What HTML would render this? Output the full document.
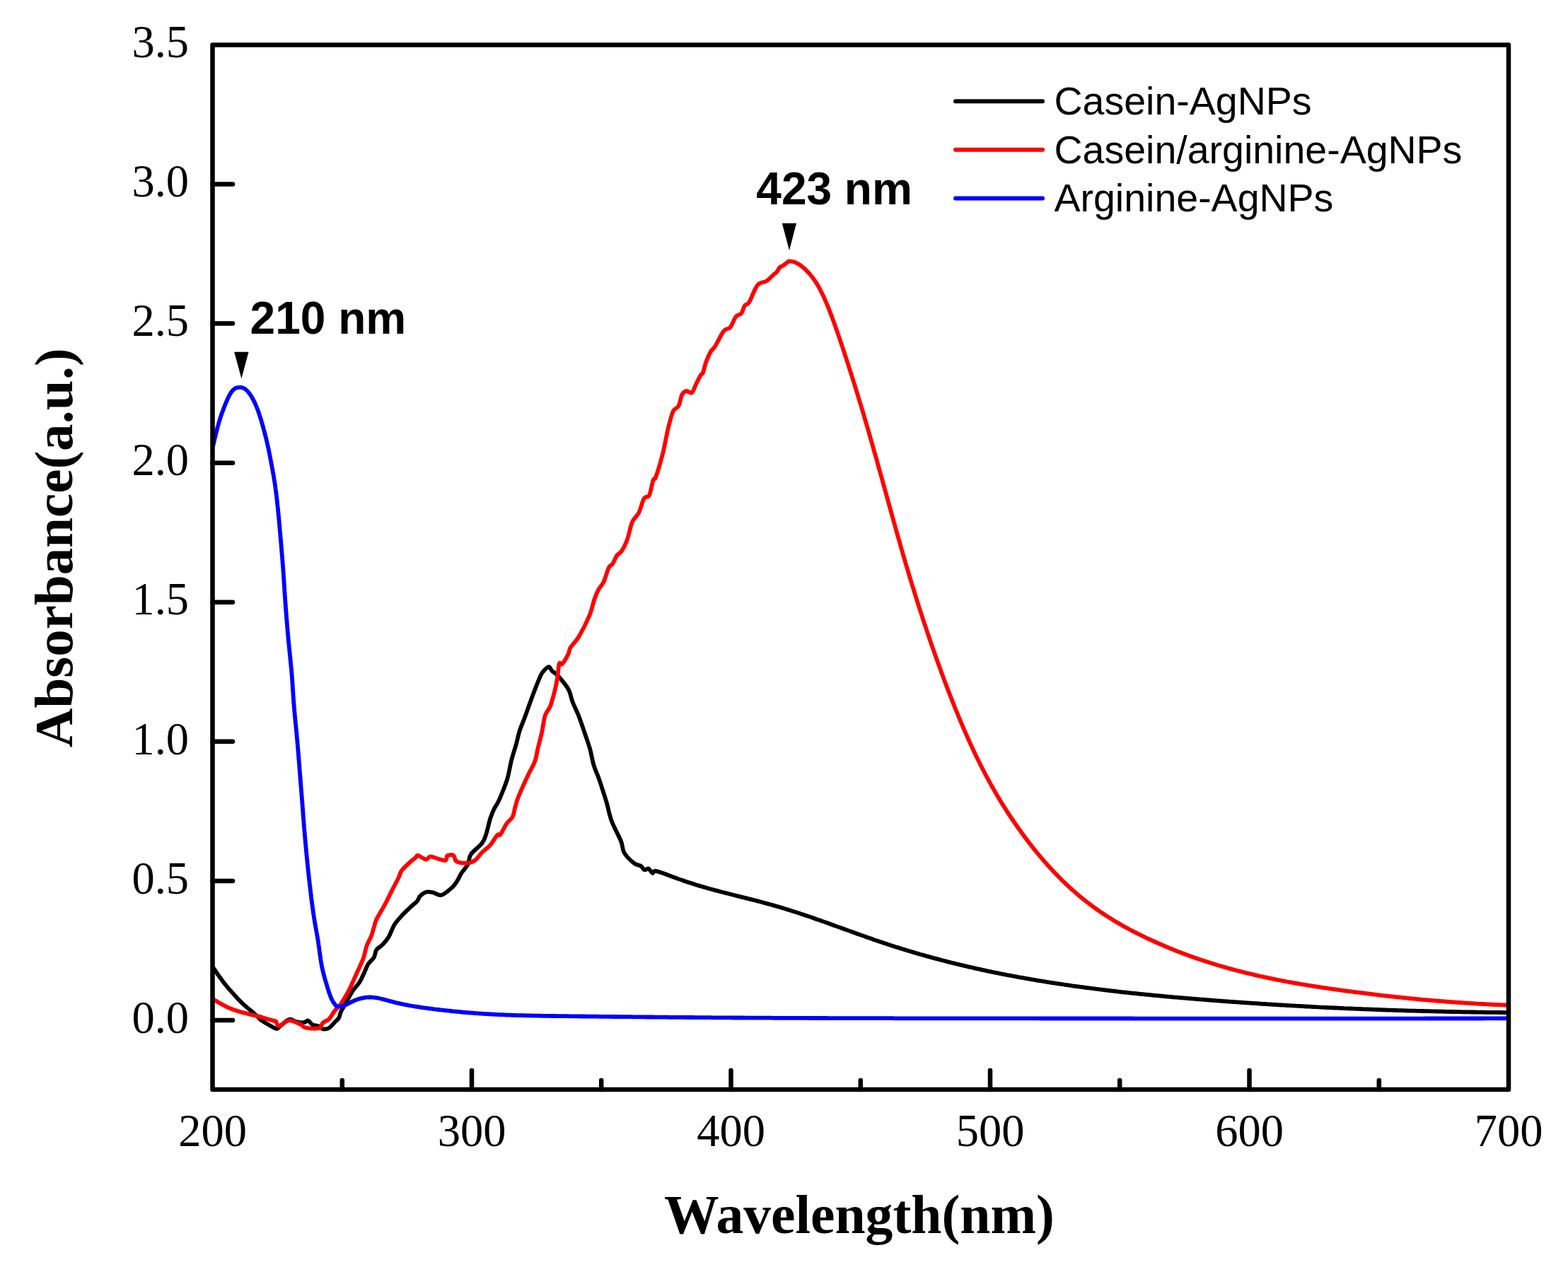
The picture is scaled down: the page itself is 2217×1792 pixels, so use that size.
<!DOCTYPE html>
<html><head><meta charset="utf-8"><title>UV-Vis absorbance spectra</title>
<style>html,body{margin:0;padding:0;background:#fff;}body{width:2217px;height:1792px;overflow:hidden;}svg{display:block;}</style>
</head><body>
<svg xmlns="http://www.w3.org/2000/svg" width="2217" height="1792" viewBox="0 0 2217 1792"><rect x="0" y="0" width="2217" height="1792" fill="#fff"/>
<clipPath id="pc"><rect x="300.5" y="63.4" width="1832.5" height="1477.6"/></clipPath>
<g clip-path="url(#pc)" fill="none" stroke-width="5.8" stroke-linejoin="round" stroke-linecap="round">
<path stroke="#000000" d="M302.1,1369.5 C302.3,1369.8 302.8,1370.5 303.3,1371.2 C303.7,1371.9 304.3,1372.7 304.8,1373.5 C305.4,1374.3 305.9,1375.2 306.5,1376.0 C307.1,1376.8 307.6,1377.6 308.2,1378.5 C308.8,1379.3 309.4,1380.1 309.9,1380.9 C310.5,1381.7 311.1,1382.5 311.7,1383.3 C312.3,1384.1 312.9,1385.0 313.5,1385.8 C314.1,1386.6 314.7,1387.4 315.3,1388.2 C315.9,1389.0 316.5,1389.8 317.1,1390.5 C317.7,1391.3 318.3,1392.1 318.9,1392.9 C319.6,1393.7 320.2,1394.5 320.8,1395.2 C321.5,1396.0 322.1,1396.8 322.7,1397.5 C323.4,1398.3 324.1,1399.0 324.7,1399.8 C325.4,1400.5 326.0,1401.3 326.7,1402.0 C327.4,1402.8 328.1,1403.5 328.7,1404.3 C329.4,1405.0 330.1,1405.7 330.7,1406.5 C331.4,1407.2 332.1,1408.0 332.7,1408.7 C333.4,1409.5 334.1,1410.2 334.8,1410.9 C335.4,1411.7 336.1,1412.4 336.8,1413.2 C337.5,1413.9 338.2,1414.6 338.9,1415.3 C339.6,1416.0 340.3,1416.7 341.0,1417.4 C341.7,1418.1 342.4,1418.8 343.2,1419.5 C343.9,1420.2 344.6,1420.9 345.4,1421.5 C346.1,1422.2 346.9,1422.9 347.6,1423.5 C348.4,1424.2 349.1,1424.8 349.9,1425.5 C350.7,1426.1 351.5,1426.7 352.2,1427.4 C353.0,1428.0 353.8,1428.6 354.6,1429.3 C355.3,1429.9 356.1,1430.5 356.9,1431.2 C357.6,1431.8 358.4,1432.5 359.1,1433.1 C359.9,1433.8 360.6,1434.5 361.3,1435.2 C362.0,1435.9 362.8,1436.6 363.5,1437.3 C364.2,1438.0 364.9,1438.7 365.6,1439.4 C366.2,1440.0 366.9,1440.8 367.5,1441.3 C368.0,1441.9 366.7,1441.4 368.8,1442.7 C370.9,1444.1 376.3,1447.5 380.0,1449.5 C383.7,1451.5 388.4,1454.8 391.2,1455.0 C394.0,1455.2 394.0,1452.7 397.0,1450.5 C400.0,1448.3 405.6,1442.8 409.1,1441.8 C412.6,1440.8 415.2,1444.0 418.0,1444.8 C420.8,1445.5 423.7,1446.1 425.9,1446.3 C428.1,1446.5 429.4,1446.3 431.0,1445.8 C432.6,1445.3 434.0,1443.0 435.4,1443.3 C436.8,1443.5 438.3,1446.2 439.5,1447.3 C440.7,1448.3 440.7,1448.9 442.6,1449.6 C444.5,1450.3 448.7,1450.5 451.0,1451.5 C453.3,1452.5 454.3,1455.1 456.6,1455.5 C458.9,1455.9 462.2,1455.7 465.0,1454.1 C467.8,1452.5 471.1,1448.0 473.4,1445.7 C475.7,1443.4 477.5,1442.4 478.9,1440.1 C480.3,1437.8 480.7,1434.2 481.7,1431.8 C482.7,1429.4 482.1,1430.6 485.0,1425.5 C487.9,1420.4 495.0,1407.2 498.8,1401.3 C502.6,1395.3 505.3,1394.0 508.0,1389.8 C510.7,1385.6 512.8,1380.4 514.9,1376.0 C517.0,1371.6 518.4,1367.0 520.7,1363.3 C523.0,1359.6 526.9,1357.4 528.8,1354.1 C530.7,1350.8 530.1,1346.8 532.2,1343.7 C534.3,1340.6 538.5,1338.7 541.4,1335.6 C544.3,1332.5 546.8,1329.9 549.5,1325.3 C552.2,1320.7 554.5,1313.0 557.6,1308.0 C560.7,1303.0 564.2,1299.3 567.9,1295.3 C571.5,1291.3 575.9,1287.2 579.5,1283.8 C583.1,1280.3 587.4,1277.3 589.8,1274.6 C592.2,1271.9 591.7,1269.7 593.8,1267.5 C595.9,1265.3 599.3,1262.5 602.4,1261.7 C605.5,1260.9 608.9,1261.7 612.5,1262.4 C616.1,1263.1 619.7,1267.1 624.0,1266.0 C628.3,1264.9 634.8,1259.1 638.4,1256.0 C642.0,1252.9 643.2,1250.9 645.6,1247.3 C648.0,1243.7 650.2,1238.4 652.8,1234.3 C655.4,1230.2 659.2,1227.1 661.4,1222.8 C663.6,1218.5 662.4,1213.4 665.8,1208.4 C669.2,1203.4 678.0,1197.4 681.6,1192.6 C685.2,1187.8 685.5,1185.4 687.4,1179.6 C689.3,1173.8 691.2,1164.0 693.1,1158.0 C695.0,1152.0 697.1,1147.4 698.9,1143.6 C700.7,1139.8 702.4,1138.2 704.0,1135.0 C705.6,1131.8 706.4,1130.3 708.6,1124.7 C710.8,1119.1 714.9,1109.7 717.3,1101.6 C719.7,1093.5 720.9,1084.4 723.0,1076.0 C725.1,1067.6 728.3,1058.2 730.2,1051.2 C732.1,1044.2 732.7,1039.9 734.6,1033.9 C736.5,1027.9 739.4,1021.7 741.8,1015.2 C744.2,1008.7 746.4,1002.2 749.0,995.0 C751.6,987.8 755.0,978.7 757.6,972.0 C760.2,965.3 762.7,958.8 764.8,954.7 C766.9,950.6 768.1,949.4 770.0,947.5 C771.9,945.6 774.5,943.0 776.3,943.2 C778.1,943.5 778.4,946.8 780.6,949.0 C782.8,951.2 785.4,951.9 789.3,956.2 C793.1,960.5 800.4,968.9 803.7,974.9 C807.1,980.9 807.0,986.0 809.4,992.2 C811.8,998.4 815.2,1004.9 818.1,1012.3 C821.0,1019.7 824.1,1029.1 826.7,1036.8 C829.3,1044.5 831.7,1050.7 833.9,1058.4 C836.1,1066.1 837.5,1075.7 839.7,1082.9 C841.9,1090.1 844.8,1095.6 846.9,1101.6 C849.0,1107.6 850.7,1112.9 852.6,1118.9 C854.5,1124.9 856.4,1130.5 858.4,1137.6 C860.4,1144.7 861.6,1152.9 864.9,1161.5 C868.1,1170.1 874.9,1182.0 877.9,1189.4 C880.9,1196.8 879.5,1200.8 882.6,1206.1 C885.7,1211.4 892.7,1217.9 896.6,1221.0 C900.5,1224.1 903.4,1223.2 905.9,1224.8 C908.4,1226.4 909.6,1229.8 911.5,1230.4 C913.4,1231.0 915.1,1227.7 917.0,1228.5 C918.9,1229.3 920.7,1234.4 922.6,1235.0 C924.5,1235.6 922.6,1231.0 928.2,1232.2 C933.8,1233.4 950.8,1240.1 956.1,1241.9 C961.4,1243.8 958.8,1242.9 960.1,1243.4 C961.4,1243.9 962.8,1244.4 964.1,1244.8 C965.4,1245.3 966.8,1245.7 968.1,1246.2 C969.4,1246.7 970.8,1247.1 972.1,1247.5 C973.4,1248.0 974.8,1248.4 976.1,1248.8 C977.4,1249.3 978.8,1249.7 980.1,1250.1 C981.4,1250.5 982.8,1251.0 984.1,1251.4 C985.4,1251.8 986.8,1252.2 988.1,1252.6 C989.4,1253.0 990.8,1253.4 992.1,1253.8 C993.4,1254.2 994.8,1254.5 996.1,1254.9 C997.4,1255.3 998.8,1255.7 1000.1,1256.1 C1001.4,1256.4 1002.8,1256.8 1004.1,1257.2 C1005.4,1257.6 1006.8,1257.9 1008.1,1258.3 C1009.4,1258.6 1010.8,1259.0 1012.1,1259.4 C1013.4,1259.7 1014.8,1260.1 1016.1,1260.4 C1017.4,1260.8 1018.8,1261.1 1020.1,1261.5 C1021.4,1261.8 1022.8,1262.2 1024.1,1262.5 C1025.4,1262.9 1026.8,1263.2 1028.1,1263.5 C1029.4,1263.9 1030.8,1264.2 1032.1,1264.6 C1033.4,1264.9 1034.8,1265.2 1036.1,1265.6 C1037.4,1265.9 1038.8,1266.2 1040.1,1266.6 C1041.4,1266.9 1042.8,1267.3 1044.1,1267.6 C1045.4,1267.9 1046.8,1268.3 1048.1,1268.6 C1049.4,1268.9 1050.8,1269.3 1052.1,1269.6 C1053.4,1269.9 1054.8,1270.3 1056.1,1270.6 C1057.4,1270.9 1058.8,1271.3 1060.1,1271.6 C1061.4,1271.9 1062.8,1272.3 1064.1,1272.6 C1065.4,1273.0 1066.8,1273.3 1068.1,1273.6 C1069.4,1274.0 1070.8,1274.3 1072.1,1274.7 C1073.4,1275.0 1074.8,1275.4 1076.1,1275.7 C1077.4,1276.1 1078.8,1276.4 1080.1,1276.8 C1081.4,1277.1 1082.8,1277.5 1084.1,1277.9 C1085.4,1278.2 1086.8,1278.6 1088.1,1279.0 C1089.4,1279.3 1090.8,1279.7 1092.1,1280.1 C1093.4,1280.4 1094.8,1280.8 1096.1,1281.2 C1097.4,1281.6 1098.8,1282.0 1100.1,1282.4 C1101.4,1282.7 1102.8,1283.1 1104.1,1283.5 C1105.4,1283.9 1106.8,1284.3 1108.1,1284.7 C1109.4,1285.1 1110.8,1285.5 1112.1,1286.0 C1113.4,1286.4 1114.8,1286.8 1116.1,1287.2 C1117.4,1287.6 1118.8,1288.0 1120.1,1288.5 C1121.4,1288.9 1122.8,1289.3 1124.1,1289.8 C1125.4,1290.2 1126.8,1290.6 1128.1,1291.1 C1129.4,1291.5 1130.8,1291.9 1132.1,1292.4 C1133.4,1292.8 1134.8,1293.3 1136.1,1293.7 C1137.4,1294.2 1138.8,1294.6 1140.1,1295.1 C1141.4,1295.5 1142.8,1296.0 1144.1,1296.4 C1145.4,1296.9 1146.8,1297.3 1148.1,1297.8 C1149.4,1298.3 1150.8,1298.7 1152.1,1299.2 C1153.4,1299.7 1154.8,1300.1 1156.1,1300.6 C1157.4,1301.1 1158.8,1301.5 1160.1,1302.0 C1161.4,1302.5 1162.8,1302.9 1164.1,1303.4 C1165.4,1303.9 1166.8,1304.4 1168.1,1304.8 C1169.4,1305.3 1170.8,1305.8 1172.1,1306.3 C1173.4,1306.8 1174.8,1307.2 1176.1,1307.7 C1177.4,1308.2 1178.8,1308.7 1180.1,1309.2 C1181.4,1309.6 1182.8,1310.1 1184.1,1310.6 C1185.4,1311.1 1186.8,1311.6 1188.1,1312.0 C1189.4,1312.5 1190.8,1313.0 1192.1,1313.5 C1193.4,1314.0 1194.8,1314.5 1196.1,1314.9 C1197.4,1315.4 1198.8,1315.9 1200.1,1316.4 C1201.4,1316.9 1202.8,1317.4 1204.1,1317.8 C1205.4,1318.3 1206.8,1318.8 1208.1,1319.3 C1209.4,1319.8 1210.8,1320.2 1212.1,1320.7 C1213.4,1321.2 1214.8,1321.7 1216.1,1322.1 C1217.4,1322.6 1218.8,1323.1 1220.1,1323.6 C1221.4,1324.0 1222.8,1324.5 1224.1,1325.0 C1225.4,1325.5 1226.8,1325.9 1228.1,1326.4 C1229.4,1326.9 1230.8,1327.3 1232.1,1327.8 C1233.4,1328.3 1234.8,1328.7 1236.1,1329.2 C1237.4,1329.6 1238.8,1330.1 1240.1,1330.6 C1241.4,1331.0 1242.8,1331.5 1244.1,1331.9 C1245.4,1332.4 1246.8,1332.8 1248.1,1333.3 C1249.4,1333.7 1250.8,1334.2 1252.1,1334.6 C1253.4,1335.0 1254.8,1335.5 1256.1,1335.9 C1257.4,1336.4 1258.8,1336.8 1260.1,1337.2 C1261.4,1337.7 1262.8,1338.1 1264.1,1338.5 C1265.4,1338.9 1266.8,1339.4 1268.1,1339.8 C1269.4,1340.2 1270.8,1340.6 1272.1,1341.0 C1273.4,1341.5 1274.8,1341.9 1276.1,1342.3 C1277.4,1342.7 1278.8,1343.1 1280.1,1343.5 C1281.4,1343.9 1282.8,1344.3 1284.1,1344.7 C1285.4,1345.1 1286.8,1345.5 1288.1,1345.9 C1289.4,1346.3 1290.8,1346.7 1292.1,1347.1 C1293.4,1347.5 1294.8,1347.9 1296.1,1348.3 C1297.4,1348.7 1298.8,1349.1 1300.1,1349.5 C1301.4,1349.8 1302.8,1350.2 1304.1,1350.6 C1305.4,1351.0 1306.8,1351.4 1308.1,1351.7 C1309.4,1352.1 1310.8,1352.5 1312.1,1352.8 C1313.4,1353.2 1314.8,1353.6 1316.1,1353.9 C1317.4,1354.3 1318.8,1354.7 1320.1,1355.0 C1321.4,1355.4 1322.8,1355.8 1324.1,1356.1 C1325.4,1356.5 1326.8,1356.8 1328.1,1357.2 C1329.4,1357.5 1330.8,1357.9 1332.1,1358.2 C1333.4,1358.6 1334.8,1358.9 1336.1,1359.3 C1337.4,1359.6 1338.8,1359.9 1340.1,1360.3 C1341.4,1360.6 1342.8,1361.0 1344.1,1361.3 C1345.4,1361.6 1346.8,1362.0 1348.1,1362.3 C1349.4,1362.6 1350.8,1362.9 1352.1,1363.3 C1353.4,1363.6 1354.8,1363.9 1356.1,1364.2 C1357.4,1364.6 1358.8,1364.9 1360.1,1365.2 C1361.4,1365.5 1362.8,1365.8 1364.1,1366.1 C1365.4,1366.5 1366.8,1366.8 1368.1,1367.1 C1369.4,1367.4 1370.8,1367.7 1372.1,1368.0 C1373.4,1368.3 1374.8,1368.6 1376.1,1368.9 C1377.4,1369.2 1378.8,1369.5 1380.1,1369.8 C1381.4,1370.1 1382.8,1370.4 1384.1,1370.7 C1385.4,1371.0 1386.8,1371.3 1388.1,1371.6 C1389.4,1371.9 1390.8,1372.2 1392.1,1372.4 C1393.4,1372.7 1394.8,1373.0 1396.1,1373.3 C1397.4,1373.6 1398.8,1373.9 1400.1,1374.1 C1401.4,1374.4 1402.8,1374.7 1404.1,1375.0 C1405.4,1375.3 1406.8,1375.5 1408.1,1375.8 C1409.4,1376.1 1410.8,1376.3 1412.1,1376.6 C1413.4,1376.9 1414.8,1377.1 1416.1,1377.4 C1417.4,1377.7 1418.8,1377.9 1420.1,1378.2 C1421.4,1378.5 1422.8,1378.7 1424.1,1379.0 C1425.4,1379.2 1426.8,1379.5 1428.1,1379.7 C1429.4,1380.0 1430.8,1380.3 1432.1,1380.5 C1433.4,1380.8 1434.8,1381.0 1436.1,1381.2 C1437.4,1381.5 1438.8,1381.7 1440.1,1382.0 C1441.4,1382.2 1442.8,1382.5 1444.1,1382.7 C1445.4,1383.0 1446.8,1383.2 1448.1,1383.4 C1449.4,1383.7 1450.8,1383.9 1452.1,1384.1 C1453.4,1384.4 1454.8,1384.6 1456.1,1384.8 C1457.4,1385.1 1458.8,1385.3 1460.1,1385.5 C1461.4,1385.8 1462.8,1386.0 1464.1,1386.2 C1465.4,1386.4 1466.8,1386.7 1468.1,1386.9 C1469.4,1387.1 1470.8,1387.3 1472.1,1387.5 C1473.4,1387.8 1474.8,1388.0 1476.1,1388.2 C1477.4,1388.4 1478.8,1388.6 1480.1,1388.8 C1481.4,1389.1 1482.8,1389.3 1484.1,1389.5 C1485.4,1389.7 1486.8,1389.9 1488.1,1390.1 C1489.4,1390.3 1490.8,1390.5 1492.1,1390.7 C1493.4,1390.9 1494.8,1391.1 1496.1,1391.3 C1497.4,1391.5 1498.8,1391.7 1500.1,1391.9 C1501.4,1392.1 1502.8,1392.3 1504.1,1392.5 C1505.4,1392.7 1506.8,1392.9 1508.1,1393.1 C1509.4,1393.3 1510.8,1393.5 1512.1,1393.7 C1513.4,1393.9 1514.8,1394.1 1516.1,1394.3 C1517.4,1394.4 1518.8,1394.6 1520.1,1394.8 C1521.4,1395.0 1522.8,1395.2 1524.1,1395.4 C1525.4,1395.6 1526.8,1395.7 1528.1,1395.9 C1529.4,1396.1 1530.8,1396.3 1532.1,1396.5 C1533.4,1396.6 1534.8,1396.8 1536.1,1397.0 C1537.4,1397.2 1538.8,1397.3 1540.1,1397.5 C1541.4,1397.7 1542.8,1397.9 1544.1,1398.0 C1545.4,1398.2 1546.8,1398.4 1548.1,1398.5 C1549.4,1398.7 1550.8,1398.9 1552.1,1399.0 C1553.4,1399.2 1554.8,1399.4 1556.1,1399.5 C1557.4,1399.7 1558.8,1399.9 1560.1,1400.0 C1561.4,1400.2 1562.8,1400.3 1564.1,1400.5 C1565.4,1400.7 1566.8,1400.8 1568.1,1401.0 C1569.4,1401.1 1570.8,1401.3 1572.1,1401.5 C1573.4,1401.6 1574.8,1401.8 1576.1,1401.9 C1577.4,1402.1 1578.8,1402.2 1580.1,1402.4 C1581.4,1402.5 1582.8,1402.7 1584.1,1402.8 C1585.4,1403.0 1586.8,1403.1 1588.1,1403.3 C1589.4,1403.4 1590.8,1403.6 1592.1,1403.7 C1593.4,1403.9 1594.8,1404.0 1596.1,1404.1 C1597.4,1404.3 1598.8,1404.4 1600.1,1404.6 C1601.4,1404.7 1602.8,1404.8 1604.1,1405.0 C1605.4,1405.1 1606.8,1405.3 1608.1,1405.4 C1609.4,1405.5 1610.8,1405.7 1612.1,1405.8 C1613.4,1406.0 1614.8,1406.1 1616.1,1406.2 C1617.4,1406.4 1618.8,1406.5 1620.1,1406.6 C1621.4,1406.8 1622.8,1406.9 1624.1,1407.0 C1625.4,1407.1 1626.8,1407.3 1628.1,1407.4 C1629.4,1407.5 1630.8,1407.7 1632.1,1407.8 C1633.4,1407.9 1634.8,1408.0 1636.1,1408.2 C1637.4,1408.3 1638.8,1408.4 1640.1,1408.6 C1641.4,1408.7 1642.8,1408.8 1644.1,1408.9 C1645.4,1409.0 1646.8,1409.2 1648.1,1409.3 C1649.4,1409.4 1650.8,1409.5 1652.1,1409.7 C1653.4,1409.8 1654.8,1409.9 1656.1,1410.0 C1657.4,1410.1 1658.8,1410.2 1660.1,1410.4 C1661.4,1410.5 1662.8,1410.6 1664.1,1410.7 C1665.4,1410.8 1666.8,1411.0 1668.1,1411.1 C1669.4,1411.2 1670.8,1411.3 1672.1,1411.4 C1673.4,1411.5 1674.8,1411.6 1676.1,1411.7 C1677.4,1411.9 1678.8,1412.0 1680.1,1412.1 C1681.4,1412.2 1682.8,1412.3 1684.1,1412.4 C1685.4,1412.5 1686.8,1412.6 1688.1,1412.7 C1689.4,1412.9 1690.8,1413.0 1692.1,1413.1 C1693.4,1413.2 1694.8,1413.3 1696.1,1413.4 C1697.4,1413.5 1698.8,1413.6 1700.1,1413.7 C1701.4,1413.8 1702.8,1413.9 1704.1,1414.0 C1705.4,1414.1 1706.8,1414.2 1708.1,1414.3 C1709.4,1414.4 1710.8,1414.6 1712.1,1414.7 C1713.4,1414.8 1714.8,1414.9 1716.1,1415.0 C1717.4,1415.1 1718.8,1415.2 1720.1,1415.3 C1721.4,1415.4 1722.8,1415.5 1724.1,1415.6 C1725.4,1415.7 1726.8,1415.8 1728.1,1415.9 C1729.4,1416.0 1730.8,1416.1 1732.1,1416.2 C1733.4,1416.3 1734.8,1416.4 1736.1,1416.5 C1737.4,1416.6 1738.8,1416.7 1740.1,1416.8 C1741.4,1416.8 1742.8,1416.9 1744.1,1417.0 C1745.4,1417.1 1746.8,1417.2 1748.1,1417.3 C1749.4,1417.4 1750.8,1417.5 1752.1,1417.6 C1753.4,1417.7 1754.8,1417.8 1756.1,1417.9 C1757.4,1418.0 1758.8,1418.1 1760.1,1418.2 C1761.4,1418.3 1762.8,1418.3 1764.1,1418.4 C1765.4,1418.5 1766.8,1418.6 1768.1,1418.7 C1769.4,1418.8 1770.8,1418.9 1772.1,1419.0 C1773.4,1419.1 1774.8,1419.2 1776.1,1419.2 C1777.4,1419.3 1778.8,1419.4 1780.1,1419.5 C1781.4,1419.6 1782.8,1419.7 1784.1,1419.8 C1785.4,1419.8 1786.8,1419.9 1788.1,1420.0 C1789.4,1420.1 1790.8,1420.2 1792.1,1420.3 C1793.4,1420.4 1794.8,1420.4 1796.1,1420.5 C1797.4,1420.6 1798.8,1420.7 1800.1,1420.8 C1801.4,1420.9 1802.8,1420.9 1804.1,1421.0 C1805.4,1421.1 1806.8,1421.2 1808.1,1421.3 C1809.4,1421.3 1810.8,1421.4 1812.1,1421.5 C1813.4,1421.6 1814.8,1421.7 1816.1,1421.7 C1817.4,1421.8 1818.8,1421.9 1820.1,1422.0 C1821.4,1422.0 1822.8,1422.1 1824.1,1422.2 C1825.4,1422.3 1826.8,1422.4 1828.1,1422.4 C1829.4,1422.5 1830.8,1422.6 1832.1,1422.7 C1833.4,1422.7 1834.8,1422.8 1836.1,1422.9 C1837.4,1423.0 1838.8,1423.0 1840.1,1423.1 C1841.4,1423.2 1842.8,1423.2 1844.1,1423.3 C1845.4,1423.4 1846.8,1423.5 1848.1,1423.5 C1849.4,1423.6 1850.8,1423.7 1852.1,1423.7 C1853.4,1423.8 1854.8,1423.9 1856.1,1424.0 C1857.4,1424.0 1858.8,1424.1 1860.1,1424.2 C1861.4,1424.2 1862.8,1424.3 1864.1,1424.4 C1865.4,1424.4 1866.8,1424.5 1868.1,1424.6 C1869.4,1424.6 1870.8,1424.7 1872.1,1424.8 C1873.4,1424.8 1874.8,1424.9 1876.1,1425.0 C1877.4,1425.0 1878.8,1425.1 1880.1,1425.2 C1881.4,1425.2 1882.8,1425.3 1884.1,1425.3 C1885.4,1425.4 1886.8,1425.5 1888.1,1425.5 C1889.4,1425.6 1890.8,1425.7 1892.1,1425.7 C1893.4,1425.8 1894.8,1425.8 1896.1,1425.9 C1897.4,1426.0 1898.8,1426.0 1900.1,1426.1 C1901.4,1426.1 1902.8,1426.2 1904.1,1426.3 C1905.4,1426.3 1906.8,1426.4 1908.1,1426.4 C1909.4,1426.5 1910.8,1426.5 1912.1,1426.6 C1913.4,1426.7 1914.8,1426.7 1916.1,1426.8 C1917.4,1426.8 1918.8,1426.9 1920.1,1426.9 C1921.4,1427.0 1922.8,1427.0 1924.1,1427.1 C1925.4,1427.2 1926.8,1427.2 1928.1,1427.3 C1929.4,1427.3 1930.8,1427.4 1932.1,1427.4 C1933.4,1427.5 1934.8,1427.5 1936.1,1427.6 C1937.4,1427.6 1938.8,1427.7 1940.1,1427.7 C1941.4,1427.8 1942.8,1427.8 1944.1,1427.9 C1945.4,1427.9 1946.8,1428.0 1948.1,1428.0 C1949.4,1428.1 1950.8,1428.1 1952.1,1428.2 C1953.4,1428.2 1954.8,1428.3 1956.1,1428.3 C1957.4,1428.4 1958.8,1428.4 1960.1,1428.5 C1961.4,1428.5 1962.8,1428.5 1964.1,1428.6 C1965.4,1428.6 1966.8,1428.7 1968.1,1428.7 C1969.4,1428.8 1970.8,1428.8 1972.1,1428.9 C1973.4,1428.9 1974.8,1428.9 1976.1,1429.0 C1977.4,1429.0 1978.8,1429.1 1980.1,1429.1 C1981.4,1429.2 1982.8,1429.2 1984.1,1429.2 C1985.4,1429.3 1986.8,1429.3 1988.1,1429.4 C1989.4,1429.4 1990.8,1429.4 1992.1,1429.5 C1993.4,1429.5 1994.8,1429.6 1996.1,1429.6 C1997.4,1429.6 1998.8,1429.7 2000.1,1429.7 C2001.4,1429.8 2002.8,1429.8 2004.1,1429.8 C2005.4,1429.9 2006.8,1429.9 2008.1,1429.9 C2009.4,1430.0 2010.8,1430.0 2012.1,1430.0 C2013.4,1430.1 2014.8,1430.1 2016.1,1430.1 C2017.4,1430.2 2018.8,1430.2 2020.1,1430.2 C2021.4,1430.3 2022.8,1430.3 2024.1,1430.3 C2025.4,1430.4 2026.8,1430.4 2028.1,1430.4 C2029.4,1430.5 2030.8,1430.5 2032.1,1430.5 C2033.4,1430.6 2034.8,1430.6 2036.1,1430.6 C2037.4,1430.7 2038.8,1430.7 2040.1,1430.7 C2041.4,1430.7 2042.8,1430.8 2044.1,1430.8 C2045.4,1430.8 2046.8,1430.9 2048.1,1430.9 C2049.4,1430.9 2050.8,1430.9 2052.1,1431.0 C2053.4,1431.0 2054.8,1431.0 2056.1,1431.0 C2057.4,1431.1 2058.8,1431.1 2060.1,1431.1 C2061.4,1431.2 2062.8,1431.2 2064.1,1431.2 C2065.4,1431.2 2066.8,1431.2 2068.1,1431.3 C2069.4,1431.3 2070.8,1431.3 2072.1,1431.3 C2073.4,1431.4 2074.8,1431.4 2076.1,1431.4 C2077.4,1431.4 2078.8,1431.5 2080.1,1431.5 C2081.4,1431.5 2082.8,1431.5 2084.1,1431.5 C2085.4,1431.6 2086.8,1431.6 2088.1,1431.6 C2089.4,1431.6 2090.8,1431.6 2092.1,1431.7 C2093.4,1431.7 2094.8,1431.7 2096.1,1431.7 C2097.4,1431.7 2098.8,1431.7 2100.1,1431.8 C2101.4,1431.8 2102.8,1431.8 2104.1,1431.8 C2105.4,1431.8 2106.8,1431.8 2108.1,1431.9 C2109.4,1431.9 2110.8,1431.9 2112.1,1431.9 C2113.4,1431.9 2114.8,1431.9 2116.1,1431.9 C2117.4,1432.0 2118.8,1432.0 2120.1,1432.0 C2121.4,1432.0 2122.8,1432.0 2124.1,1432.0 C2125.4,1432.0 2126.9,1432.0 2128.1,1432.1 C2129.2,1432.1 2130.5,1432.1 2131.0,1432.1"/>
<path stroke="#ff0000" d="M302.0,1413.6 C302.3,1413.8 303.1,1414.3 303.8,1414.7 C304.5,1415.1 305.3,1415.6 306.1,1416.1 C307.0,1416.6 307.9,1417.1 308.7,1417.6 C309.6,1418.1 310.5,1418.6 311.3,1419.1 C312.2,1419.6 313.1,1420.1 314.0,1420.6 C314.8,1421.1 315.7,1421.5 316.6,1422.0 C317.5,1422.5 318.4,1423.0 319.3,1423.4 C320.2,1423.9 321.0,1424.3 322.0,1424.7 C322.9,1425.2 323.8,1425.6 324.7,1425.9 C325.6,1426.3 326.5,1426.7 327.5,1427.1 C328.4,1427.4 329.3,1427.8 330.3,1428.1 C331.2,1428.4 332.2,1428.7 333.1,1429.0 C334.1,1429.3 335.0,1429.6 336.0,1429.9 C336.9,1430.2 337.9,1430.5 338.9,1430.8 C339.8,1431.1 340.8,1431.3 341.7,1431.6 C342.7,1431.9 343.7,1432.1 344.6,1432.4 C345.6,1432.7 346.6,1432.9 347.5,1433.2 C348.5,1433.4 349.5,1433.6 350.5,1433.9 C351.4,1434.1 352.4,1434.4 353.4,1434.6 C354.3,1434.8 355.3,1435.1 356.3,1435.3 C357.3,1435.5 358.2,1435.8 359.2,1436.0 C360.2,1436.2 361.2,1436.4 362.1,1436.7 C363.1,1436.9 364.1,1437.2 365.0,1437.4 C366.0,1437.6 367.0,1437.9 367.9,1438.2 C368.9,1438.4 369.9,1438.7 370.8,1439.0 C371.8,1439.3 372.7,1439.6 373.7,1439.9 C374.6,1440.2 375.6,1440.5 376.6,1440.7 C377.5,1441.0 378.5,1441.3 379.4,1441.6 C380.4,1441.9 381.4,1442.2 382.3,1442.5 C383.3,1442.7 384.2,1443.0 385.2,1443.3 C386.1,1443.6 387.1,1443.8 387.9,1444.1 C388.7,1444.3 389.5,1444.5 389.9,1444.6 C390.3,1444.8 389.6,1443.7 390.4,1444.8 C391.2,1445.8 391.5,1451.2 394.6,1451.0 C397.7,1450.8 403.9,1443.6 409.1,1443.3 C414.3,1443.0 422.2,1447.7 425.9,1449.4 C429.6,1451.1 427.3,1452.5 431.5,1453.3 C435.7,1454.1 446.8,1455.4 451.0,1454.3 C455.2,1453.2 454.3,1448.6 456.6,1446.5 C458.9,1444.4 462.2,1444.4 465.0,1441.6 C467.8,1438.8 471.1,1432.5 473.4,1429.5 C475.7,1426.5 477.5,1424.9 478.9,1423.4 C480.2,1421.9 479.1,1424.2 481.5,1420.5 C483.9,1416.8 489.1,1408.7 493.0,1401.3 C496.9,1393.9 501.1,1383.7 504.6,1376.0 C508.1,1368.3 511.5,1361.5 513.8,1355.2 C516.1,1348.9 516.5,1343.3 518.4,1337.9 C520.3,1332.5 523.2,1328.8 525.3,1323.0 C527.4,1317.2 529.4,1308.2 531.1,1303.4 C532.8,1298.6 533.4,1298.4 535.7,1294.2 C538.0,1290.0 541.8,1283.8 544.9,1278.0 C548.0,1272.2 551.0,1265.7 554.1,1259.6 C557.2,1253.5 561.2,1246.2 563.5,1241.5 C565.8,1236.8 564.9,1235.2 567.8,1231.4 C570.7,1227.6 577.4,1221.6 580.8,1218.5 C584.2,1215.4 586.3,1214.1 588.0,1212.7 C589.7,1211.3 588.5,1209.4 590.9,1209.9 C593.3,1210.4 599.5,1215.4 602.4,1215.6 C605.3,1215.8 605.6,1211.5 608.2,1211.3 C610.8,1211.1 614.6,1213.2 618.2,1214.2 C621.8,1215.2 627.4,1217.7 629.8,1217.0 C632.2,1216.3 630.8,1211.2 632.7,1210.0 C634.6,1208.8 639.1,1208.6 641.3,1210.0 C643.4,1211.4 642.5,1216.7 645.6,1218.5 C648.7,1220.3 655.7,1220.8 660.0,1220.6 C664.3,1220.3 667.9,1219.5 671.5,1217.0 C675.1,1214.5 678.0,1209.1 681.6,1205.5 C685.2,1201.9 689.5,1199.5 693.1,1195.4 C696.7,1191.3 700.8,1183.5 703.2,1181.0 C705.6,1178.5 705.3,1182.9 707.5,1180.3 C709.7,1177.7 713.3,1169.4 716.2,1165.2 C719.1,1161.0 722.8,1158.8 724.8,1155.1 C726.8,1151.4 726.9,1147.1 728.0,1143.0 C729.1,1138.9 729.9,1135.4 731.7,1130.4 C733.5,1125.4 736.3,1119.1 738.9,1113.1 C741.5,1107.1 744.6,1100.4 747.5,1094.4 C750.4,1088.4 754.0,1083.1 756.2,1077.1 C758.4,1071.1 758.8,1065.4 760.5,1058.4 C762.2,1051.5 764.5,1043.1 766.2,1035.4 C767.9,1027.7 768.7,1018.3 770.6,1012.3 C772.5,1006.3 775.6,1004.7 777.8,999.4 C779.9,994.1 781.8,987.1 783.5,980.6 C785.2,974.1 786.6,967.5 787.8,960.5 C789.0,953.5 789.5,942.5 790.7,938.9 C791.9,935.3 792.8,941.3 795.0,938.9 C797.2,936.5 801.8,928.4 803.7,924.5 C805.6,920.6 804.2,919.8 806.6,915.8 C809.0,911.8 814.0,908.0 818.4,900.5 C822.8,893.0 829.5,879.9 833.2,871.0 C836.9,862.1 838.5,853.1 840.6,847.0 C842.8,840.9 844.0,838.1 846.1,834.1 C848.2,830.1 851.0,828.2 853.5,823.0 C856.0,817.8 858.6,807.1 860.8,802.8 C862.9,798.5 864.5,800.0 866.4,797.2 C868.2,794.4 869.8,789.3 871.9,786.2 C874.0,783.1 876.8,782.5 879.3,778.8 C881.8,775.1 884.1,770.9 886.6,764.1 C889.1,757.3 891.2,744.7 894.0,738.2 C896.8,731.7 900.4,730.8 903.2,725.3 C906.0,719.8 908.1,709.2 910.6,705.1 C913.1,701.0 915.9,704.8 918.0,700.5 C920.1,696.2 922.0,683.6 923.5,679.3 C925.0,675.0 925.1,680.6 927.2,674.7 C929.4,668.9 934.0,653.3 936.4,644.2 C938.8,635.1 940.2,627.0 941.7,620.0 C943.2,613.0 943.9,608.4 945.6,602.0 C947.3,595.6 949.5,586.4 951.8,581.7 C954.1,577.0 957.4,577.9 959.5,574.0 C961.6,570.1 962.4,561.9 964.2,558.4 C966.0,554.9 968.1,553.5 970.4,553.0 C972.7,552.5 975.9,557.0 978.2,555.3 C980.5,553.6 982.3,546.9 984.4,542.8 C986.5,538.6 989.1,533.0 990.7,530.4 C992.3,527.8 992.5,530.4 993.8,527.3 C995.1,524.2 996.6,516.6 998.4,511.7 C1000.2,506.8 1002.6,501.3 1004.7,497.7 C1006.8,494.1 1007.8,494.9 1010.9,490.0 C1014.0,485.1 1019.7,472.7 1023.3,468.2 C1026.9,463.7 1029.8,466.2 1032.6,462.8 C1035.4,459.4 1037.8,451.2 1040.4,448.0 C1043.0,444.8 1046.1,445.9 1048.2,443.3 C1050.3,440.7 1051.1,435.0 1052.9,432.4 C1054.7,429.8 1056.8,431.4 1059.1,427.8 C1061.4,424.2 1064.6,415.1 1066.9,410.7 C1069.2,406.3 1070.2,403.5 1073.1,401.3 C1075.9,399.1 1080.6,399.5 1084.0,397.4 C1087.4,395.3 1091.0,391.0 1093.3,388.9 C1095.6,386.8 1096.5,386.8 1098.0,385.0 C1099.5,383.2 1101.1,379.5 1102.6,378.0 C1104.1,376.5 1104.9,377.3 1106.9,375.9 C1108.9,374.5 1113.2,370.9 1114.7,369.9 C1116.2,368.8 1115.7,369.7 1116.2,369.7 C1116.7,369.6 1117.2,369.6 1117.7,369.6 C1118.2,369.7 1118.7,369.7 1119.2,369.7 C1119.7,369.8 1120.2,369.9 1120.7,370.0 C1121.2,370.1 1121.7,370.2 1122.2,370.4 C1122.7,370.5 1123.2,370.7 1123.7,370.9 C1124.2,371.1 1124.7,371.3 1125.2,371.5 C1125.7,371.7 1126.2,372.0 1126.7,372.2 C1127.2,372.5 1127.7,372.8 1128.2,373.1 C1128.7,373.3 1129.2,373.7 1129.7,374.0 C1130.2,374.3 1130.7,374.6 1131.2,375.0 C1131.7,375.3 1132.2,375.7 1132.7,376.1 C1133.2,376.5 1133.7,376.9 1134.2,377.3 C1134.7,377.7 1135.2,378.1 1135.7,378.5 C1136.2,378.9 1136.7,379.3 1137.2,379.8 C1137.7,380.2 1138.2,380.7 1138.7,381.1 C1139.2,381.6 1139.7,382.1 1140.2,382.6 C1140.7,383.1 1141.2,383.6 1141.7,384.1 C1142.2,384.6 1142.7,385.1 1143.2,385.7 C1143.7,386.2 1144.2,386.8 1144.7,387.3 C1145.2,387.9 1145.7,388.5 1146.2,389.1 C1146.7,389.7 1147.2,390.3 1147.7,391.0 C1148.2,391.6 1148.7,392.2 1149.2,392.9 C1149.7,393.6 1150.2,394.3 1150.7,395.0 C1151.2,395.7 1151.7,396.4 1152.2,397.1 C1152.7,397.9 1153.2,398.6 1153.7,399.4 C1154.2,400.2 1154.7,401.0 1155.2,401.8 C1155.7,402.6 1156.2,403.5 1156.7,404.3 C1157.2,405.2 1157.7,406.1 1158.2,407.0 C1158.7,407.9 1159.2,408.8 1159.7,409.8 C1160.2,410.7 1160.7,411.7 1161.2,412.7 C1161.7,413.7 1162.2,414.7 1162.7,415.7 C1163.2,416.7 1163.7,417.8 1164.2,418.9 C1164.7,420.0 1165.2,421.1 1165.7,422.2 C1166.2,423.3 1166.7,424.4 1167.2,425.6 C1167.7,426.7 1168.2,427.9 1168.7,429.1 C1169.2,430.3 1169.7,431.5 1170.2,432.7 C1170.7,433.9 1171.2,435.2 1171.7,436.4 C1172.2,437.7 1172.7,438.9 1173.2,440.2 C1173.7,441.5 1174.2,442.8 1174.7,444.1 C1175.2,445.4 1175.7,446.8 1176.2,448.1 C1176.7,449.4 1177.2,450.8 1177.7,452.2 C1178.2,453.5 1178.7,454.9 1179.2,456.3 C1179.7,457.7 1180.2,459.1 1180.7,460.5 C1181.2,461.9 1181.7,463.3 1182.2,464.7 C1182.7,466.1 1183.2,467.6 1183.7,469.0 C1184.2,470.5 1184.7,471.9 1185.2,473.4 C1185.7,474.8 1186.2,476.3 1186.7,477.8 C1187.2,479.3 1187.7,480.7 1188.2,482.2 C1188.7,483.7 1189.2,485.2 1189.7,486.7 C1190.2,488.2 1190.7,489.7 1191.2,491.2 C1191.7,492.7 1192.2,494.2 1192.7,495.7 C1193.2,497.2 1193.7,498.7 1194.2,500.3 C1194.7,501.8 1195.2,503.3 1195.7,504.8 C1196.2,506.4 1196.7,507.9 1197.2,509.4 C1197.7,511.0 1198.2,512.5 1198.7,514.1 C1199.2,515.6 1199.7,517.2 1200.2,518.7 C1200.7,520.3 1201.2,521.8 1201.7,523.4 C1202.2,525.0 1202.7,526.5 1203.2,528.1 C1203.7,529.7 1204.2,531.3 1204.7,532.8 C1205.2,534.4 1205.7,536.0 1206.2,537.6 C1206.7,539.2 1207.2,540.8 1207.7,542.4 C1208.2,544.0 1208.7,545.6 1209.2,547.2 C1209.7,548.8 1210.2,550.4 1210.7,552.1 C1211.2,553.7 1211.7,555.3 1212.2,556.9 C1212.7,558.6 1213.2,560.2 1213.7,561.8 C1214.2,563.5 1214.7,565.1 1215.2,566.8 C1215.7,568.4 1216.2,570.1 1216.7,571.7 C1217.2,573.4 1217.7,575.0 1218.2,576.7 C1218.7,578.4 1219.2,580.0 1219.7,581.7 C1220.2,583.4 1220.7,585.1 1221.2,586.7 C1221.7,588.4 1222.2,590.1 1222.7,591.8 C1223.2,593.5 1223.7,595.2 1224.2,596.9 C1224.7,598.6 1225.2,600.3 1225.7,602.0 C1226.2,603.7 1226.7,605.5 1227.2,607.2 C1227.7,608.9 1228.2,610.6 1228.7,612.4 C1229.2,614.1 1229.7,615.8 1230.2,617.6 C1230.7,619.3 1231.2,621.1 1231.7,622.8 C1232.2,624.6 1232.7,626.3 1233.2,628.1 C1233.7,629.8 1234.2,631.6 1234.7,633.4 C1235.2,635.1 1235.7,636.9 1236.2,638.7 C1236.7,640.4 1237.2,642.2 1237.7,644.0 C1238.2,645.8 1238.7,647.6 1239.2,649.3 C1239.7,651.1 1240.2,652.9 1240.7,654.7 C1241.2,656.5 1241.7,658.3 1242.2,660.1 C1242.7,661.9 1243.2,663.7 1243.7,665.5 C1244.2,667.3 1244.7,669.1 1245.2,670.9 C1245.7,672.7 1246.2,674.5 1246.7,676.3 C1247.2,678.1 1247.7,679.9 1248.2,681.7 C1248.7,683.5 1249.2,685.3 1249.7,687.1 C1250.2,689.0 1250.7,690.8 1251.2,692.6 C1251.7,694.4 1252.2,696.2 1252.7,698.0 C1253.2,699.8 1253.7,701.6 1254.2,703.4 C1254.7,705.3 1255.2,707.1 1255.7,708.9 C1256.2,710.7 1256.7,712.5 1257.2,714.3 C1257.7,716.1 1258.2,717.9 1258.7,719.7 C1259.2,721.5 1259.7,723.3 1260.2,725.1 C1260.7,726.9 1261.2,728.7 1261.7,730.5 C1262.2,732.3 1262.7,734.1 1263.2,735.9 C1263.7,737.7 1264.2,739.5 1264.7,741.3 C1265.2,743.1 1265.7,744.9 1266.2,746.7 C1266.7,748.5 1267.2,750.2 1267.7,752.0 C1268.2,753.8 1268.7,755.6 1269.2,757.4 C1269.7,759.1 1270.2,760.9 1270.7,762.7 C1271.2,764.4 1271.7,766.2 1272.2,767.9 C1272.7,769.7 1273.2,771.5 1273.7,773.2 C1274.2,775.0 1274.7,776.7 1275.2,778.4 C1275.7,780.2 1276.2,781.9 1276.7,783.6 C1277.2,785.4 1277.7,787.1 1278.2,788.8 C1278.7,790.5 1279.2,792.3 1279.7,794.0 C1280.2,795.7 1280.7,797.4 1281.2,799.1 C1281.7,800.8 1282.2,802.5 1282.7,804.1 C1283.2,805.8 1283.7,807.5 1284.2,809.2 C1284.7,810.9 1285.2,812.5 1285.7,814.2 C1286.2,815.9 1286.7,817.5 1287.2,819.2 C1287.7,820.8 1288.2,822.5 1288.7,824.1 C1289.2,825.7 1289.7,827.4 1290.2,829.0 C1290.7,830.6 1291.2,832.3 1291.7,833.9 C1292.2,835.5 1292.7,837.1 1293.2,838.7 C1293.7,840.3 1294.2,841.9 1294.7,843.5 C1295.2,845.1 1295.7,846.7 1296.2,848.3 C1296.7,849.9 1297.2,851.5 1297.7,853.1 C1298.2,854.6 1298.7,856.2 1299.2,857.8 C1299.7,859.3 1300.2,860.9 1300.7,862.5 C1301.2,864.0 1301.7,865.6 1302.2,867.1 C1302.7,868.6 1303.2,870.2 1303.7,871.7 C1304.2,873.3 1304.7,874.8 1305.2,876.3 C1305.7,877.8 1306.2,879.4 1306.7,880.9 C1307.2,882.4 1307.7,883.9 1308.2,885.4 C1308.7,886.9 1309.2,888.4 1309.7,889.9 C1310.2,891.4 1310.7,892.9 1311.2,894.4 C1311.7,895.9 1312.2,897.3 1312.7,898.8 C1313.2,900.3 1313.7,901.8 1314.2,903.2 C1314.7,904.7 1315.2,906.1 1315.7,907.6 C1316.2,909.1 1316.7,910.5 1317.2,912.0 C1317.7,913.4 1318.2,914.8 1318.7,916.3 C1319.2,917.7 1319.7,919.1 1320.2,920.6 C1320.7,922.0 1321.2,923.4 1321.7,924.8 C1322.2,926.3 1322.7,927.7 1323.2,929.1 C1323.7,930.5 1324.2,931.9 1324.7,933.3 C1325.2,934.7 1325.7,936.1 1326.2,937.5 C1326.7,938.9 1327.2,940.3 1327.7,941.6 C1328.2,943.0 1328.7,944.4 1329.2,945.8 C1329.7,947.1 1330.2,948.5 1330.7,949.9 C1331.2,951.2 1331.7,952.6 1332.2,954.0 C1332.7,955.3 1333.2,956.7 1333.7,958.0 C1334.2,959.4 1334.7,960.7 1335.2,962.0 C1335.7,963.4 1336.2,964.7 1336.7,966.0 C1337.2,967.4 1337.7,968.7 1338.2,970.0 C1338.7,971.3 1339.2,972.6 1339.7,973.9 C1340.2,975.3 1340.7,976.6 1341.2,977.9 C1341.7,979.2 1342.2,980.5 1342.7,981.7 C1343.2,983.0 1343.7,984.3 1344.2,985.6 C1344.7,986.9 1345.2,988.2 1345.7,989.4 C1346.2,990.7 1346.7,992.0 1347.2,993.2 C1347.7,994.5 1348.2,995.8 1348.7,997.0 C1349.2,998.3 1349.7,999.5 1350.2,1000.8 C1350.7,1002.0 1351.2,1003.2 1351.7,1004.5 C1352.2,1005.7 1352.7,1006.9 1353.2,1008.2 C1353.7,1009.4 1354.2,1010.6 1354.7,1011.8 C1355.2,1013.0 1355.7,1014.2 1356.2,1015.5 C1356.7,1016.7 1357.2,1017.9 1357.7,1019.1 C1358.2,1020.2 1358.7,1021.4 1359.2,1022.6 C1359.7,1023.8 1360.2,1025.0 1360.7,1026.2 C1361.2,1027.3 1361.7,1028.5 1362.2,1029.7 C1362.7,1030.8 1363.2,1032.0 1363.7,1033.1 C1364.2,1034.3 1364.7,1035.4 1365.2,1036.6 C1365.7,1037.7 1366.2,1038.9 1366.7,1040.0 C1367.2,1041.1 1367.7,1042.3 1368.2,1043.4 C1368.7,1044.5 1369.2,1045.6 1369.7,1046.7 C1370.2,1047.9 1370.7,1049.0 1371.2,1050.1 C1371.7,1051.2 1372.2,1052.3 1372.7,1053.4 C1373.2,1054.5 1373.7,1055.5 1374.2,1056.6 C1374.7,1057.7 1375.2,1058.8 1375.7,1059.8 C1376.2,1060.9 1376.7,1062.0 1377.2,1063.0 C1377.7,1064.1 1378.2,1065.2 1378.7,1066.2 C1379.2,1067.2 1379.7,1068.3 1380.2,1069.3 C1380.7,1070.4 1381.2,1071.4 1381.7,1072.4 C1382.2,1073.5 1382.7,1074.5 1383.2,1075.5 C1383.7,1076.5 1384.2,1077.5 1384.7,1078.5 C1385.2,1079.5 1385.7,1080.5 1386.2,1081.5 C1386.7,1082.5 1387.2,1083.5 1387.7,1084.5 C1388.2,1085.5 1388.7,1086.5 1389.2,1087.4 C1389.7,1088.4 1390.2,1089.4 1390.7,1090.3 C1391.2,1091.3 1391.7,1092.3 1392.2,1093.2 C1392.7,1094.2 1393.2,1095.1 1393.7,1096.1 C1394.2,1097.0 1394.7,1097.9 1395.2,1098.9 C1395.7,1099.8 1396.2,1100.7 1396.7,1101.7 C1397.2,1102.6 1397.7,1103.5 1398.2,1104.4 C1398.7,1105.3 1399.2,1106.3 1399.7,1107.2 C1400.2,1108.1 1400.7,1109.0 1401.2,1109.9 C1401.7,1110.8 1402.2,1111.7 1402.7,1112.6 C1403.2,1113.4 1403.7,1114.3 1404.2,1115.2 C1404.7,1116.1 1405.2,1117.0 1405.7,1117.8 C1406.2,1118.7 1406.7,1119.6 1407.2,1120.4 C1407.7,1121.3 1408.2,1122.1 1408.7,1123.0 C1409.2,1123.9 1409.7,1124.7 1410.2,1125.5 C1410.7,1126.4 1411.2,1127.2 1411.7,1128.1 C1412.2,1128.9 1412.7,1129.7 1413.2,1130.6 C1413.7,1131.4 1414.2,1132.2 1414.7,1133.0 C1415.2,1133.9 1415.7,1134.7 1416.2,1135.5 C1416.7,1136.3 1417.2,1137.1 1417.7,1137.9 C1418.2,1138.7 1418.7,1139.5 1419.2,1140.3 C1419.7,1141.1 1420.2,1141.9 1420.7,1142.7 C1421.2,1143.5 1421.7,1144.3 1422.2,1145.1 C1422.7,1145.9 1423.2,1146.6 1423.7,1147.4 C1424.2,1148.2 1424.7,1149.0 1425.2,1149.7 C1425.7,1150.5 1426.2,1151.3 1426.7,1152.0 C1427.2,1152.8 1427.7,1153.5 1428.2,1154.3 C1428.7,1155.0 1429.2,1155.8 1429.7,1156.5 C1430.2,1157.3 1430.7,1158.0 1431.2,1158.8 C1431.7,1159.5 1432.2,1160.3 1432.7,1161.0 C1433.2,1161.7 1433.7,1162.5 1434.2,1163.2 C1434.7,1163.9 1435.2,1164.6 1435.7,1165.4 C1436.2,1166.1 1436.7,1166.8 1437.2,1167.5 C1437.7,1168.2 1438.2,1169.0 1438.7,1169.7 C1439.2,1170.4 1439.7,1171.1 1440.2,1171.8 C1440.7,1172.5 1441.2,1173.2 1441.7,1173.9 C1442.2,1174.6 1442.7,1175.3 1443.2,1176.0 C1443.7,1176.7 1444.2,1177.4 1444.7,1178.1 C1445.2,1178.8 1445.7,1179.4 1446.2,1180.1 C1446.7,1180.8 1447.2,1181.5 1447.7,1182.2 C1448.2,1182.8 1448.7,1183.5 1449.2,1184.2 C1449.7,1184.9 1450.2,1185.5 1450.7,1186.2 C1451.2,1186.9 1451.7,1187.5 1452.2,1188.2 C1452.7,1188.8 1453.2,1189.5 1453.7,1190.1 C1454.2,1190.8 1454.7,1191.5 1455.2,1192.1 C1455.7,1192.8 1456.2,1193.4 1456.7,1194.0 C1457.2,1194.7 1457.7,1195.3 1458.2,1196.0 C1458.7,1196.6 1459.2,1197.2 1459.7,1197.9 C1460.2,1198.5 1460.7,1199.1 1461.2,1199.8 C1461.7,1200.4 1462.2,1201.0 1462.7,1201.6 C1463.2,1202.3 1463.7,1202.9 1464.2,1203.5 C1464.7,1204.1 1465.2,1204.7 1465.7,1205.3 C1466.2,1205.9 1466.7,1206.6 1467.2,1207.2 C1467.7,1207.8 1468.2,1208.4 1468.7,1209.0 C1469.2,1209.6 1469.7,1210.2 1470.2,1210.8 C1470.7,1211.4 1471.2,1212.0 1471.7,1212.5 C1472.2,1213.1 1472.7,1213.7 1473.2,1214.3 C1473.7,1214.9 1474.2,1215.5 1474.7,1216.1 C1475.2,1216.6 1475.7,1217.2 1476.2,1217.8 C1476.7,1218.4 1477.2,1218.9 1477.7,1219.5 C1478.2,1220.1 1478.7,1220.6 1479.2,1221.2 C1479.7,1221.8 1480.2,1222.3 1480.7,1222.9 C1481.2,1223.5 1481.7,1224.0 1482.2,1224.6 C1482.7,1225.1 1483.2,1225.7 1483.7,1226.2 C1484.2,1226.8 1484.7,1227.3 1485.2,1227.9 C1485.7,1228.4 1486.2,1229.0 1486.7,1229.5 C1487.2,1230.0 1487.7,1230.6 1488.2,1231.1 C1488.7,1231.6 1489.2,1232.2 1489.7,1232.7 C1490.2,1233.2 1490.7,1233.8 1491.2,1234.3 C1491.7,1234.8 1492.2,1235.3 1492.7,1235.9 C1493.2,1236.4 1493.7,1236.9 1494.2,1237.4 C1494.7,1237.9 1495.2,1238.4 1495.7,1238.9 C1496.2,1239.5 1496.7,1240.0 1497.2,1240.5 C1497.7,1241.0 1498.2,1241.5 1498.7,1242.0 C1499.2,1242.4 1499.1,1242.4 1500.0,1243.3 C1500.9,1244.1 1502.7,1245.9 1504.0,1247.2 C1505.3,1248.5 1506.7,1249.8 1508.0,1251.0 C1509.3,1252.3 1510.7,1253.5 1512.0,1254.7 C1513.3,1256.0 1514.7,1257.2 1516.0,1258.4 C1517.3,1259.6 1518.7,1260.7 1520.0,1261.9 C1521.3,1263.1 1522.7,1264.2 1524.0,1265.3 C1525.3,1266.5 1526.7,1267.6 1528.0,1268.7 C1529.3,1269.8 1530.7,1270.9 1532.0,1272.0 C1533.3,1273.0 1534.7,1274.1 1536.0,1275.1 C1537.3,1276.2 1538.7,1277.2 1540.0,1278.2 C1541.3,1279.2 1542.7,1280.2 1544.0,1281.2 C1545.3,1282.2 1546.7,1283.2 1548.0,1284.1 C1549.3,1285.1 1550.7,1286.1 1552.0,1287.0 C1553.3,1287.9 1554.7,1288.9 1556.0,1289.8 C1557.3,1290.7 1558.7,1291.6 1560.0,1292.5 C1561.3,1293.4 1562.7,1294.2 1564.0,1295.1 C1565.3,1296.0 1566.7,1296.8 1568.0,1297.7 C1569.3,1298.5 1570.7,1299.3 1572.0,1300.2 C1573.3,1301.0 1574.7,1301.8 1576.0,1302.6 C1577.3,1303.4 1578.7,1304.2 1580.0,1305.0 C1581.3,1305.8 1582.7,1306.5 1584.0,1307.3 C1585.3,1308.1 1586.7,1308.8 1588.0,1309.6 C1589.3,1310.3 1590.7,1311.1 1592.0,1311.8 C1593.3,1312.5 1594.7,1313.3 1596.0,1314.0 C1597.3,1314.7 1598.7,1315.4 1600.0,1316.1 C1601.3,1316.8 1602.7,1317.5 1604.0,1318.2 C1605.3,1318.9 1606.7,1319.5 1608.0,1320.2 C1609.3,1320.9 1610.7,1321.5 1612.0,1322.2 C1613.3,1322.9 1614.7,1323.5 1616.0,1324.2 C1617.3,1324.8 1618.7,1325.4 1620.0,1326.1 C1621.3,1326.7 1622.7,1327.3 1624.0,1328.0 C1625.3,1328.6 1626.7,1329.2 1628.0,1329.8 C1629.3,1330.4 1630.7,1331.0 1632.0,1331.6 C1633.3,1332.2 1634.7,1332.8 1636.0,1333.4 C1637.3,1334.0 1638.7,1334.6 1640.0,1335.2 C1641.3,1335.8 1642.7,1336.4 1644.0,1336.9 C1645.3,1337.5 1646.7,1338.1 1648.0,1338.6 C1649.3,1339.2 1650.7,1339.8 1652.0,1340.3 C1653.3,1340.9 1654.7,1341.4 1656.0,1342.0 C1657.3,1342.5 1658.7,1343.0 1660.0,1343.6 C1661.3,1344.1 1662.7,1344.6 1664.0,1345.2 C1665.3,1345.7 1666.7,1346.2 1668.0,1346.7 C1669.3,1347.2 1670.7,1347.7 1672.0,1348.3 C1673.3,1348.8 1674.7,1349.3 1676.0,1349.8 C1677.3,1350.2 1678.7,1350.7 1680.0,1351.2 C1681.3,1351.7 1682.7,1352.2 1684.0,1352.7 C1685.3,1353.2 1686.7,1353.6 1688.0,1354.1 C1689.3,1354.6 1690.7,1355.0 1692.0,1355.5 C1693.3,1356.0 1694.7,1356.4 1696.0,1356.9 C1697.3,1357.3 1698.7,1357.8 1700.0,1358.2 C1701.3,1358.7 1702.7,1359.1 1704.0,1359.5 C1705.3,1360.0 1706.7,1360.4 1708.0,1360.8 C1709.3,1361.2 1710.7,1361.7 1712.0,1362.1 C1713.3,1362.5 1714.7,1362.9 1716.0,1363.3 C1717.3,1363.7 1718.7,1364.2 1720.0,1364.6 C1721.3,1365.0 1722.7,1365.4 1724.0,1365.8 C1725.3,1366.2 1726.7,1366.5 1728.0,1366.9 C1729.3,1367.3 1730.7,1367.7 1732.0,1368.1 C1733.3,1368.5 1734.7,1368.8 1736.0,1369.2 C1737.3,1369.6 1738.7,1370.0 1740.0,1370.3 C1741.3,1370.7 1742.7,1371.1 1744.0,1371.4 C1745.3,1371.8 1746.7,1372.1 1748.0,1372.5 C1749.3,1372.8 1750.7,1373.2 1752.0,1373.5 C1753.3,1373.9 1754.7,1374.2 1756.0,1374.5 C1757.3,1374.9 1758.7,1375.2 1760.0,1375.6 C1761.3,1375.9 1762.7,1376.2 1764.0,1376.5 C1765.3,1376.9 1766.7,1377.2 1768.0,1377.5 C1769.3,1377.8 1770.7,1378.1 1772.0,1378.4 C1773.3,1378.8 1774.7,1379.1 1776.0,1379.4 C1777.3,1379.7 1778.7,1380.0 1780.0,1380.3 C1781.3,1380.6 1782.7,1380.9 1784.0,1381.2 C1785.3,1381.5 1786.7,1381.8 1788.0,1382.1 C1789.3,1382.3 1790.7,1382.6 1792.0,1382.9 C1793.3,1383.2 1794.7,1383.5 1796.0,1383.7 C1797.3,1384.0 1798.7,1384.3 1800.0,1384.6 C1801.3,1384.8 1802.7,1385.1 1804.0,1385.4 C1805.3,1385.7 1806.7,1385.9 1808.0,1386.2 C1809.3,1386.4 1810.7,1386.7 1812.0,1387.0 C1813.3,1387.2 1814.7,1387.5 1816.0,1387.7 C1817.3,1388.0 1818.7,1388.2 1820.0,1388.5 C1821.3,1388.7 1822.7,1389.0 1824.0,1389.2 C1825.3,1389.4 1826.7,1389.7 1828.0,1389.9 C1829.3,1390.2 1830.7,1390.4 1832.0,1390.6 C1833.3,1390.9 1834.7,1391.1 1836.0,1391.3 C1837.3,1391.6 1838.7,1391.8 1840.0,1392.0 C1841.3,1392.2 1842.7,1392.5 1844.0,1392.7 C1845.3,1392.9 1846.7,1393.1 1848.0,1393.3 C1849.3,1393.6 1850.7,1393.8 1852.0,1394.0 C1853.3,1394.2 1854.7,1394.4 1856.0,1394.6 C1857.3,1394.8 1858.7,1395.1 1860.0,1395.3 C1861.3,1395.5 1862.7,1395.7 1864.0,1395.9 C1865.3,1396.1 1866.7,1396.3 1868.0,1396.5 C1869.3,1396.7 1870.7,1396.9 1872.0,1397.1 C1873.3,1397.3 1874.7,1397.5 1876.0,1397.7 C1877.3,1397.9 1878.7,1398.1 1880.0,1398.3 C1881.3,1398.5 1882.7,1398.7 1884.0,1398.8 C1885.3,1399.0 1886.7,1399.2 1888.0,1399.4 C1889.3,1399.6 1890.7,1399.8 1892.0,1400.0 C1893.3,1400.2 1894.7,1400.3 1896.0,1400.5 C1897.3,1400.7 1898.7,1400.9 1900.0,1401.1 C1901.3,1401.3 1902.7,1401.4 1904.0,1401.6 C1905.3,1401.8 1906.7,1402.0 1908.0,1402.1 C1909.3,1402.3 1910.7,1402.5 1912.0,1402.7 C1913.3,1402.8 1914.7,1403.0 1916.0,1403.2 C1917.3,1403.4 1918.7,1403.5 1920.0,1403.7 C1921.3,1403.9 1922.7,1404.1 1924.0,1404.2 C1925.3,1404.4 1926.7,1404.6 1928.0,1404.7 C1929.3,1404.9 1930.7,1405.1 1932.0,1405.2 C1933.3,1405.4 1934.7,1405.6 1936.0,1405.7 C1937.3,1405.9 1938.7,1406.0 1940.0,1406.2 C1941.3,1406.4 1942.7,1406.5 1944.0,1406.7 C1945.3,1406.8 1946.7,1407.0 1948.0,1407.2 C1949.3,1407.3 1950.7,1407.5 1952.0,1407.6 C1953.3,1407.8 1954.7,1407.9 1956.0,1408.1 C1957.3,1408.2 1958.7,1408.4 1960.0,1408.5 C1961.3,1408.7 1962.7,1408.8 1964.0,1409.0 C1965.3,1409.1 1966.7,1409.3 1968.0,1409.4 C1969.3,1409.6 1970.7,1409.7 1972.0,1409.9 C1973.3,1410.0 1974.7,1410.1 1976.0,1410.3 C1977.3,1410.4 1978.7,1410.6 1980.0,1410.7 C1981.3,1410.9 1982.7,1411.0 1984.0,1411.1 C1985.3,1411.3 1986.7,1411.4 1988.0,1411.5 C1989.3,1411.7 1990.7,1411.8 1992.0,1411.9 C1993.3,1412.1 1994.7,1412.2 1996.0,1412.3 C1997.3,1412.5 1998.7,1412.6 2000.0,1412.7 C2001.3,1412.9 2002.7,1413.0 2004.0,1413.1 C2005.3,1413.2 2006.7,1413.4 2008.0,1413.5 C2009.3,1413.6 2010.7,1413.7 2012.0,1413.9 C2013.3,1414.0 2014.7,1414.1 2016.0,1414.2 C2017.3,1414.3 2018.7,1414.5 2020.0,1414.6 C2021.3,1414.7 2022.7,1414.8 2024.0,1414.9 C2025.3,1415.0 2026.7,1415.1 2028.0,1415.3 C2029.3,1415.4 2030.7,1415.5 2032.0,1415.6 C2033.3,1415.7 2034.7,1415.8 2036.0,1415.9 C2037.3,1416.0 2038.7,1416.1 2040.0,1416.2 C2041.3,1416.4 2042.7,1416.5 2044.0,1416.6 C2045.3,1416.7 2046.7,1416.8 2048.0,1416.9 C2049.3,1417.0 2050.7,1417.1 2052.0,1417.2 C2053.3,1417.3 2054.7,1417.4 2056.0,1417.5 C2057.3,1417.6 2058.7,1417.7 2060.0,1417.8 C2061.3,1417.8 2062.7,1417.9 2064.0,1418.0 C2065.3,1418.1 2066.7,1418.2 2068.0,1418.3 C2069.3,1418.4 2070.7,1418.5 2072.0,1418.6 C2073.3,1418.7 2074.7,1418.7 2076.0,1418.8 C2077.3,1418.9 2078.7,1419.0 2080.0,1419.1 C2081.3,1419.2 2082.7,1419.2 2084.0,1419.3 C2085.3,1419.4 2086.7,1419.5 2088.0,1419.6 C2089.3,1419.6 2090.7,1419.7 2092.0,1419.8 C2093.3,1419.9 2094.7,1419.9 2096.0,1420.0 C2097.3,1420.1 2098.7,1420.2 2100.0,1420.2 C2101.3,1420.3 2102.7,1420.4 2104.0,1420.4 C2105.3,1420.5 2106.7,1420.6 2108.0,1420.6 C2109.3,1420.7 2110.7,1420.8 2112.0,1420.8 C2113.3,1420.9 2114.7,1421.0 2116.0,1421.0 C2117.3,1421.1 2118.7,1421.1 2120.0,1421.2 C2121.3,1421.3 2122.7,1421.3 2124.0,1421.4 C2125.3,1421.4 2126.8,1421.5 2128.0,1421.5 C2129.2,1421.6 2130.5,1421.6 2131.0,1421.7"/>
<path stroke="#0000ff" d="M301.3,630.2 C301.4,629.9 301.6,629.1 301.8,628.4 C301.9,627.6 302.1,626.7 302.3,625.8 C302.5,624.9 302.8,624.0 303.0,623.0 C303.2,622.0 303.4,621.1 303.7,620.1 C303.9,619.1 304.1,618.2 304.4,617.2 C304.6,616.2 304.8,615.2 305.1,614.3 C305.3,613.3 305.6,612.3 305.8,611.4 C306.1,610.4 306.3,609.4 306.6,608.5 C306.8,607.5 307.1,606.5 307.3,605.6 C307.6,604.6 307.8,603.6 308.1,602.7 C308.4,601.7 308.6,600.7 308.9,599.8 C309.2,598.8 309.5,597.8 309.7,596.9 C310.0,595.9 310.3,595.0 310.6,594.0 C310.9,593.0 311.2,592.1 311.5,591.1 C311.8,590.2 312.1,589.2 312.4,588.3 C312.7,587.3 313.1,586.4 313.4,585.5 C313.7,584.5 314.1,583.6 314.4,582.6 C314.8,581.7 315.1,580.8 315.5,579.8 C315.8,578.9 316.2,577.9 316.5,577.0 C316.9,576.1 317.2,575.1 317.6,574.2 C318.0,573.3 318.3,572.3 318.7,571.4 C319.1,570.5 319.5,569.6 319.9,568.6 C320.3,567.7 320.7,566.8 321.1,565.9 C321.5,565.0 321.9,564.1 322.3,563.1 C322.8,562.2 323.2,561.3 323.7,560.4 C324.2,559.5 324.7,558.6 325.2,557.7 C325.7,556.8 326.2,555.9 326.8,555.1 C327.4,554.3 327.9,553.5 328.6,552.7 C329.2,552.0 329.9,551.3 330.6,550.7 C331.4,550.1 332.2,549.6 333.0,549.2 C333.8,548.8 334.8,548.4 335.7,548.2 C336.6,547.9 337.6,547.8 338.5,547.8 C339.5,547.7 340.5,547.8 341.4,548.0 C342.3,548.2 343.3,548.6 344.1,548.9 C345.0,549.3 345.9,549.8 346.7,550.4 C347.5,550.9 348.2,551.5 348.9,552.2 C349.6,552.9 350.3,553.6 351.0,554.4 C351.6,555.2 352.2,556.0 352.8,556.8 C353.4,557.6 354.0,558.5 354.5,559.3 C355.1,560.1 355.6,561.0 356.1,561.9 C356.6,562.7 357.1,563.6 357.6,564.5 C358.1,565.4 358.6,566.2 359.0,567.1 C359.5,568.0 359.9,568.9 360.3,569.8 C360.7,570.7 361.1,571.7 361.5,572.6 C361.9,573.5 362.3,574.4 362.7,575.3 C363.1,576.3 363.4,577.2 363.8,578.1 C364.2,579.1 364.5,580.0 364.8,580.9 C365.2,581.9 365.5,582.8 365.8,583.8 C366.2,584.7 366.5,585.7 366.8,586.6 C367.1,587.6 367.4,588.5 367.7,589.5 C368.0,590.4 368.3,591.4 368.6,592.3 C368.9,593.3 369.2,594.2 369.5,595.2 C369.8,596.2 370.1,597.1 370.3,598.1 C370.6,599.1 370.9,600.0 371.2,601.0 C371.4,601.9 371.7,602.9 372.0,603.9 C372.2,604.8 372.5,605.8 372.7,606.8 C373.0,607.7 373.3,608.7 373.5,609.7 C373.8,610.6 374.0,611.6 374.3,612.6 C374.5,613.5 374.8,614.5 375.0,615.5 C375.3,616.4 375.5,617.4 375.8,618.4 C376.0,619.4 376.3,620.3 376.5,621.3 C376.7,622.3 377.0,623.2 377.2,624.2 C377.4,625.2 377.6,626.2 377.9,627.1 C378.1,628.1 378.3,629.1 378.5,630.1 C378.7,631.0 379.0,632.0 379.2,633.0 C379.4,634.0 379.6,634.9 379.8,635.9 C380.0,636.9 380.2,637.9 380.4,638.9 C380.6,639.8 380.8,640.8 381.0,641.8 C381.2,642.8 381.4,643.8 381.6,644.7 C381.8,645.7 382.0,646.7 382.1,647.7 C382.3,648.7 382.5,649.7 382.7,650.6 C382.9,651.6 383.1,652.6 383.3,653.6 C383.4,654.6 383.6,655.6 383.8,656.5 C384.0,657.5 384.2,658.5 384.4,659.5 C384.6,660.5 384.7,661.5 384.9,662.4 C385.1,663.4 385.3,664.4 385.5,665.4 C385.6,666.4 385.8,667.4 386.0,668.3 C386.2,669.3 386.4,670.3 386.5,671.3 C386.7,672.3 386.9,673.3 387.0,674.2 C387.2,675.2 387.4,676.2 387.5,677.2 C387.7,678.2 387.8,679.2 388.0,680.2 C388.2,681.2 388.3,682.1 388.5,683.1 C388.6,684.1 388.8,685.1 388.9,686.1 C389.0,687.1 389.2,688.1 389.3,689.1 C389.5,690.1 389.6,691.1 389.7,692.0 C389.9,693.0 390.0,694.0 390.1,695.0 C390.2,696.0 390.4,697.0 390.5,698.0 C390.6,699.0 390.7,700.0 390.9,701.0 C391.0,702.0 391.1,703.0 391.2,704.0 C391.3,704.9 391.5,705.9 391.6,706.9 C391.7,707.9 391.8,708.9 391.9,709.9 C392.0,710.9 392.1,711.9 392.2,712.9 C392.3,713.9 392.4,714.9 392.5,715.9 C392.7,716.9 392.8,717.9 392.9,718.9 C393.0,719.9 393.1,720.8 393.2,721.8 C393.3,722.8 393.3,723.8 393.4,724.8 C393.5,725.8 393.6,726.8 393.7,727.8 C393.8,728.8 393.9,729.8 394.0,730.8 C394.1,731.8 394.2,732.8 394.3,733.8 C394.4,734.8 394.5,735.8 394.6,736.8 C394.7,737.8 394.7,738.8 394.8,739.8 C394.9,740.8 395.0,741.8 395.1,742.8 C395.2,743.8 395.3,744.7 395.4,745.7 C395.5,746.7 395.5,747.7 395.6,748.7 C395.7,749.7 395.8,750.7 395.9,751.7 C396.0,752.7 396.1,753.7 396.2,754.7 C396.2,755.7 396.3,756.7 396.4,757.7 C396.5,758.7 396.6,759.7 396.7,760.7 C396.8,761.7 396.9,762.7 396.9,763.7 C397.0,764.7 397.1,765.7 397.2,766.7 C397.3,767.7 397.4,768.7 397.5,769.7 C397.5,770.6 397.6,771.6 397.7,772.6 C397.8,773.6 397.9,774.6 398.0,775.6 C398.1,776.6 398.1,777.6 398.2,778.6 C398.3,779.6 398.4,780.6 398.5,781.6 C398.5,782.6 398.6,783.6 398.7,784.6 C398.8,785.6 398.9,786.6 399.0,787.6 C399.0,788.6 399.1,789.6 399.2,790.6 C399.3,791.6 399.4,792.6 399.4,793.6 C399.5,794.6 399.6,795.6 399.7,796.6 C399.7,797.6 399.8,798.6 399.9,799.6 C400.0,800.6 400.0,801.5 400.1,802.5 C400.2,803.5 400.3,804.5 400.3,805.5 C400.4,806.5 400.5,807.5 400.6,808.5 C400.6,809.5 400.7,810.5 400.8,811.5 C400.8,812.5 400.9,813.5 401.0,814.5 C401.0,815.5 401.1,816.5 401.2,817.5 C401.2,818.5 401.3,819.5 401.4,820.5 C401.4,821.5 401.5,822.5 401.6,823.5 C401.6,824.5 401.7,825.5 401.8,826.5 C401.8,827.5 401.9,828.5 401.9,829.5 C402.0,830.5 402.1,831.5 402.1,832.5 C402.2,833.5 402.3,834.5 402.3,835.5 C402.4,836.5 402.5,837.5 402.5,838.5 C402.6,839.5 402.7,840.5 402.7,841.5 C402.8,842.5 402.9,843.5 402.9,844.5 C403.0,845.5 403.1,846.4 403.1,847.4 C403.2,848.4 403.3,849.4 403.3,850.4 C403.4,851.4 403.5,852.4 403.6,853.4 C403.6,854.4 403.7,855.4 403.8,856.4 C403.8,857.4 403.9,858.4 404.0,859.4 C404.1,860.4 404.1,861.4 404.2,862.4 C404.3,863.4 404.4,864.4 404.5,865.4 C404.5,866.4 404.6,867.4 404.7,868.4 C404.8,869.4 404.8,870.4 404.9,871.4 C405.0,872.4 405.1,873.4 405.2,874.4 C405.3,875.4 405.3,876.4 405.4,877.4 C405.5,878.4 405.6,879.4 405.7,880.3 C405.7,881.3 405.8,882.3 405.9,883.3 C406.0,884.3 406.1,885.3 406.2,886.3 C406.2,887.3 406.3,888.3 406.4,889.3 C406.5,890.3 406.6,891.3 406.7,892.3 C406.8,893.3 406.8,894.3 406.9,895.3 C407.0,896.3 407.1,897.3 407.2,898.3 C407.3,899.3 407.4,900.3 407.5,901.3 C407.5,902.3 407.6,903.3 407.7,904.3 C407.8,905.3 407.9,906.3 408.0,907.2 C408.1,908.2 408.2,909.2 408.3,910.2 C408.4,911.2 408.5,912.2 408.6,913.2 C408.7,914.2 408.8,915.2 408.9,916.2 C409.0,917.2 409.1,918.2 409.2,919.2 C409.3,920.2 409.4,921.2 409.5,922.2 C409.6,923.2 409.7,924.2 409.8,925.2 C409.9,926.2 410.0,927.1 410.1,928.1 C410.2,929.1 410.3,930.1 410.4,931.1 C410.5,932.1 410.6,933.1 410.7,934.1 C410.8,935.1 410.9,936.1 411.0,937.1 C411.1,938.1 411.2,939.1 411.3,940.1 C411.4,941.1 411.5,942.1 411.6,943.1 C411.7,944.1 411.8,945.1 411.9,946.1 C412.0,947.0 412.1,948.0 412.2,949.0 C412.2,950.0 412.3,951.0 412.4,952.0 C412.5,953.0 412.6,954.0 412.7,955.0 C412.7,956.0 412.8,957.0 412.9,958.0 C413.0,959.0 413.0,960.0 413.1,961.0 C413.2,962.0 413.2,963.0 413.3,964.0 C413.4,965.0 413.4,966.0 413.5,967.0 C413.6,968.0 413.6,969.0 413.7,970.0 C413.8,971.0 413.8,972.0 413.9,973.0 C414.0,974.0 414.0,975.0 414.1,976.0 C414.2,977.0 414.2,978.0 414.3,979.0 C414.4,980.0 414.4,981.0 414.5,982.0 C414.6,983.0 414.6,984.0 414.7,985.0 C414.8,985.9 414.8,986.9 414.9,987.9 C415.0,988.9 415.1,989.9 415.1,990.9 C415.2,991.9 415.3,992.9 415.3,993.9 C415.4,994.9 415.5,995.9 415.6,996.9 C415.6,997.9 415.7,998.9 415.8,999.9 C415.9,1000.9 416.0,1001.9 416.0,1002.9 C416.1,1003.9 416.2,1004.9 416.3,1005.9 C416.4,1006.9 416.5,1007.9 416.6,1008.9 C416.7,1009.9 416.8,1010.9 416.8,1011.9 C416.9,1012.9 417.0,1013.9 417.1,1014.8 C417.2,1015.8 417.3,1016.8 417.4,1017.8 C417.5,1018.8 417.6,1019.8 417.7,1020.8 C417.8,1021.8 417.9,1022.8 418.0,1023.8 C418.1,1024.8 418.2,1025.8 418.3,1026.8 C418.4,1027.8 418.5,1028.8 418.6,1029.8 C418.7,1030.8 418.8,1031.8 418.9,1032.8 C419.0,1033.8 419.1,1034.8 419.2,1035.8 C419.3,1036.7 419.4,1037.7 419.5,1038.7 C419.5,1039.7 419.6,1040.7 419.7,1041.7 C419.8,1042.7 419.9,1043.7 420.0,1044.7 C420.1,1045.7 420.2,1046.7 420.3,1047.7 C420.4,1048.7 420.5,1049.7 420.5,1050.7 C420.6,1051.7 420.7,1052.7 420.8,1053.7 C420.9,1054.7 421.0,1055.7 421.1,1056.7 C421.1,1057.7 421.2,1058.7 421.3,1059.7 C421.4,1060.7 421.5,1061.6 421.6,1062.6 C421.6,1063.6 421.7,1064.6 421.8,1065.6 C421.9,1066.6 422.0,1067.6 422.1,1068.6 C422.1,1069.6 422.2,1070.6 422.3,1071.6 C422.4,1072.6 422.5,1073.6 422.5,1074.6 C422.6,1075.6 422.7,1076.6 422.8,1077.6 C422.9,1078.6 422.9,1079.6 423.0,1080.6 C423.1,1081.6 423.2,1082.6 423.3,1083.6 C423.3,1084.6 423.4,1085.6 423.5,1086.6 C423.6,1087.6 423.6,1088.6 423.7,1089.6 C423.8,1090.6 423.9,1091.6 424.0,1092.5 C424.0,1093.5 424.1,1094.5 424.2,1095.5 C424.3,1096.5 424.4,1097.5 424.4,1098.5 C424.5,1099.5 424.6,1100.5 424.7,1101.5 C424.7,1102.5 424.8,1103.5 424.9,1104.5 C425.0,1105.5 425.1,1106.5 425.1,1107.5 C425.2,1108.5 425.3,1109.5 425.4,1110.5 C425.5,1111.5 425.5,1112.5 425.6,1113.5 C425.7,1114.5 425.8,1115.5 425.9,1116.5 C425.9,1117.5 426.0,1118.5 426.1,1119.5 C426.2,1120.5 426.3,1121.5 426.3,1122.5 C426.4,1123.5 426.5,1124.4 426.6,1125.4 C426.6,1126.4 426.7,1127.4 426.8,1128.4 C426.9,1129.4 427.0,1130.4 427.0,1131.4 C427.1,1132.4 427.2,1133.4 427.3,1134.4 C427.3,1135.4 427.4,1136.4 427.5,1137.4 C427.6,1138.4 427.6,1139.4 427.7,1140.4 C427.8,1141.4 427.9,1142.4 427.9,1143.4 C428.0,1144.4 428.1,1145.4 428.2,1146.4 C428.3,1147.4 428.3,1148.4 428.4,1149.4 C428.5,1150.4 428.6,1151.4 428.6,1152.4 C428.7,1153.4 428.8,1154.4 428.9,1155.4 C428.9,1156.4 429.0,1157.4 429.1,1158.4 C429.2,1159.3 429.3,1160.3 429.3,1161.3 C429.4,1162.3 429.5,1163.3 429.6,1164.3 C429.6,1165.3 429.7,1166.3 429.8,1167.3 C429.9,1168.3 430.0,1169.3 430.0,1170.3 C430.1,1171.3 430.2,1172.3 430.3,1173.3 C430.4,1174.3 430.5,1175.3 430.5,1176.3 C430.6,1177.3 430.7,1178.3 430.8,1179.3 C430.9,1180.3 431.0,1181.3 431.0,1182.3 C431.1,1183.3 431.2,1184.3 431.3,1185.3 C431.4,1186.3 431.5,1187.3 431.6,1188.2 C431.7,1189.2 431.7,1190.2 431.8,1191.2 C431.9,1192.2 432.0,1193.2 432.1,1194.2 C432.2,1195.2 432.3,1196.2 432.4,1197.2 C432.5,1198.2 432.6,1199.2 432.7,1200.2 C432.8,1201.2 432.8,1202.2 432.9,1203.2 C433.0,1204.2 433.1,1205.2 433.2,1206.2 C433.3,1207.2 433.4,1208.2 433.5,1209.2 C433.6,1210.2 433.7,1211.1 433.8,1212.1 C433.9,1213.1 434.0,1214.1 434.1,1215.1 C434.2,1216.1 434.3,1217.1 434.4,1218.1 C434.5,1219.1 434.6,1220.1 434.7,1221.1 C434.8,1222.1 434.9,1223.1 435.0,1224.1 C435.1,1225.1 435.2,1226.1 435.3,1227.1 C435.4,1228.1 435.5,1229.1 435.6,1230.1 C435.7,1231.0 435.8,1232.0 435.9,1233.0 C436.0,1234.0 436.2,1235.0 436.3,1236.0 C436.4,1237.0 436.5,1238.0 436.6,1239.0 C436.7,1240.0 436.8,1241.0 436.9,1242.0 C437.0,1243.0 437.1,1244.0 437.2,1245.0 C437.4,1246.0 437.5,1247.0 437.6,1247.9 C437.7,1248.9 437.8,1249.9 437.9,1250.9 C438.0,1251.9 438.1,1252.9 438.3,1253.9 C438.4,1254.9 438.5,1255.9 438.6,1256.9 C438.7,1257.9 438.8,1258.9 439.0,1259.9 C439.1,1260.9 439.2,1261.9 439.3,1262.8 C439.4,1263.8 439.6,1264.8 439.7,1265.8 C439.8,1266.8 439.9,1267.8 440.0,1268.8 C440.2,1269.8 440.3,1270.8 440.4,1271.8 C440.5,1272.8 440.7,1273.8 440.8,1274.8 C440.9,1275.8 441.1,1276.7 441.2,1277.7 C441.3,1278.7 441.4,1279.7 441.6,1280.7 C441.7,1281.7 441.8,1282.7 442.0,1283.7 C442.1,1284.7 442.2,1285.7 442.4,1286.7 C442.5,1287.6 442.7,1288.6 442.8,1289.6 C442.9,1290.6 443.1,1291.6 443.2,1292.6 C443.4,1293.6 443.5,1294.6 443.7,1295.6 C443.8,1296.6 443.9,1297.5 444.1,1298.5 C444.3,1299.5 444.4,1300.5 444.6,1301.5 C444.7,1302.5 444.9,1303.5 445.1,1304.4 C445.2,1305.4 445.4,1306.4 445.6,1307.4 C445.7,1308.4 445.9,1309.4 446.1,1310.4 C446.3,1311.3 446.5,1312.3 446.6,1313.3 C446.8,1314.3 447.0,1315.3 447.2,1316.3 C447.4,1317.2 447.5,1318.2 447.7,1319.2 C447.9,1320.2 448.1,1321.2 448.2,1322.2 C448.4,1323.2 448.6,1324.1 448.8,1325.1 C448.9,1326.1 449.1,1327.1 449.3,1328.1 C449.4,1329.1 449.6,1330.1 449.7,1331.0 C449.9,1332.0 450.0,1333.0 450.2,1334.0 C450.3,1335.0 450.5,1336.0 450.6,1337.0 C450.8,1338.0 450.9,1339.0 451.0,1340.0 C451.2,1340.9 451.3,1341.9 451.4,1342.9 C451.6,1343.9 451.7,1344.9 451.8,1345.9 C452.0,1346.9 452.1,1347.9 452.2,1348.9 C452.4,1349.9 452.5,1350.9 452.7,1351.9 C452.8,1352.9 452.9,1353.8 453.1,1354.8 C453.2,1355.8 453.4,1356.8 453.5,1357.8 C453.7,1358.8 453.8,1359.8 454.0,1360.8 C454.2,1361.7 454.3,1362.7 454.5,1363.7 C454.7,1364.7 454.8,1365.7 455.0,1366.6 C455.2,1367.6 455.4,1368.6 455.6,1369.6 C455.8,1370.6 456.1,1371.5 456.3,1372.5 C456.5,1373.5 456.7,1374.5 457.0,1375.4 C457.2,1376.4 457.5,1377.4 457.7,1378.3 C458.0,1379.3 458.2,1380.3 458.5,1381.2 C458.7,1382.2 459.0,1383.2 459.3,1384.1 C459.6,1385.1 459.8,1386.1 460.1,1387.0 C460.4,1388.0 460.7,1388.9 461.0,1389.9 C461.3,1390.9 461.6,1391.8 461.9,1392.8 C462.1,1393.7 462.4,1394.7 462.7,1395.7 C463.0,1396.6 463.3,1397.6 463.6,1398.5 C463.9,1399.5 464.2,1400.5 464.5,1401.4 C464.8,1402.4 465.1,1403.4 465.5,1404.3 C465.8,1405.3 466.1,1406.2 466.5,1407.2 C466.8,1408.1 467.1,1409.0 467.5,1410.0 C467.9,1410.9 468.3,1411.8 468.7,1412.7 C469.1,1413.6 469.6,1414.5 470.0,1415.3 C470.5,1416.2 471.0,1417.0 471.5,1417.8 C472.1,1418.6 472.6,1419.3 473.1,1420.0 C473.6,1420.7 474.2,1421.3 474.5,1421.8 C474.9,1422.2 474.4,1422.3 475.2,1422.6 C475.9,1422.9 477.9,1423.5 479.0,1423.6 C480.1,1423.8 481.0,1423.5 482.0,1423.3 C483.0,1423.2 484.0,1422.9 485.0,1422.6 C486.0,1422.3 487.0,1421.9 488.0,1421.5 C489.0,1421.1 490.0,1420.6 491.0,1420.1 C492.0,1419.6 493.0,1419.1 494.0,1418.6 C495.0,1418.1 496.0,1417.6 497.0,1417.1 C498.0,1416.6 499.0,1416.1 500.0,1415.7 C501.0,1415.2 502.0,1414.8 503.0,1414.4 C504.0,1414.0 505.0,1413.6 506.0,1413.3 C507.0,1413.0 508.0,1412.7 509.0,1412.4 C510.0,1412.1 511.0,1411.9 512.0,1411.6 C513.0,1411.4 514.0,1411.3 515.0,1411.1 C516.0,1410.9 517.0,1410.8 518.0,1410.7 C519.0,1410.6 520.0,1410.6 521.0,1410.5 C522.0,1410.5 523.0,1410.5 524.0,1410.5 C525.0,1410.5 526.0,1410.6 527.0,1410.7 C528.0,1410.7 529.0,1410.8 530.0,1411.0 C531.0,1411.1 532.0,1411.3 533.0,1411.4 C534.0,1411.6 535.0,1411.8 536.0,1412.0 C537.0,1412.2 538.0,1412.4 539.0,1412.7 C540.0,1412.9 541.0,1413.2 542.0,1413.4 C543.0,1413.7 544.0,1413.9 545.0,1414.2 C546.0,1414.5 547.0,1414.8 548.0,1415.0 C549.0,1415.3 550.0,1415.6 551.0,1415.9 C552.0,1416.1 553.0,1416.4 554.0,1416.7 C555.0,1416.9 556.0,1417.2 557.0,1417.5 C558.0,1417.7 559.0,1418.0 560.0,1418.2 C561.0,1418.5 562.0,1418.7 563.0,1418.9 C564.0,1419.2 565.0,1419.4 566.0,1419.6 C567.0,1419.8 568.0,1420.0 569.0,1420.2 C570.0,1420.4 571.0,1420.6 572.0,1420.8 C573.0,1421.0 574.0,1421.2 575.0,1421.4 C576.0,1421.6 577.0,1421.8 578.0,1422.0 C579.0,1422.2 580.0,1422.3 581.0,1422.5 C582.0,1422.7 583.0,1422.8 584.0,1423.0 C585.0,1423.2 586.0,1423.3 587.0,1423.5 C588.0,1423.6 589.0,1423.8 590.0,1424.0 C591.0,1424.1 592.0,1424.3 593.0,1424.4 C594.0,1424.6 595.0,1424.7 596.0,1424.8 C597.0,1425.0 598.0,1425.1 599.0,1425.3 C600.0,1425.4 601.0,1425.5 602.0,1425.7 C603.0,1425.8 604.0,1426.0 605.0,1426.1 C606.0,1426.2 607.0,1426.4 608.0,1426.5 C609.0,1426.6 610.0,1426.8 611.0,1426.9 C612.0,1427.0 613.0,1427.1 614.0,1427.3 C615.0,1427.4 616.0,1427.5 617.0,1427.6 C618.0,1427.8 619.0,1427.9 620.0,1428.0 C621.0,1428.1 622.0,1428.2 623.0,1428.4 C624.0,1428.5 625.0,1428.6 626.0,1428.7 C627.0,1428.8 628.0,1428.9 629.0,1429.1 C630.0,1429.2 631.0,1429.3 632.0,1429.4 C633.0,1429.5 634.0,1429.6 635.0,1429.7 C636.0,1429.8 637.0,1429.9 638.0,1430.0 C639.0,1430.1 640.0,1430.2 641.0,1430.3 C642.0,1430.4 643.0,1430.5 644.0,1430.6 C645.0,1430.7 646.0,1430.8 647.0,1430.9 C648.0,1431.0 649.0,1431.1 650.0,1431.2 C651.0,1431.3 652.0,1431.4 653.0,1431.5 C654.0,1431.6 655.0,1431.7 656.0,1431.8 C657.0,1431.8 658.0,1431.9 659.0,1432.0 C660.0,1432.1 661.0,1432.2 662.0,1432.3 C663.0,1432.4 664.0,1432.4 665.0,1432.5 C666.0,1432.6 667.0,1432.7 668.0,1432.7 C669.0,1432.8 670.0,1432.9 671.0,1433.0 C672.0,1433.0 673.0,1433.1 674.0,1433.2 C675.0,1433.3 676.0,1433.3 677.0,1433.4 C678.0,1433.5 679.0,1433.5 680.0,1433.6 C681.0,1433.7 682.0,1433.7 683.0,1433.8 C684.0,1433.9 685.0,1433.9 686.0,1434.0 C687.0,1434.0 688.0,1434.1 689.0,1434.2 C690.0,1434.2 691.0,1434.3 692.0,1434.3 C693.0,1434.4 694.0,1434.4 695.0,1434.5 C696.0,1434.6 697.0,1434.6 698.0,1434.7 C699.0,1434.7 700.0,1434.8 701.0,1434.8 C702.0,1434.9 703.0,1434.9 704.0,1435.0 C705.0,1435.0 706.0,1435.0 707.0,1435.1 C708.0,1435.1 709.0,1435.2 710.0,1435.2 C711.0,1435.3 712.0,1435.3 713.0,1435.3 C714.0,1435.4 715.0,1435.4 716.0,1435.5 C717.0,1435.5 718.0,1435.5 719.0,1435.6 C720.0,1435.6 721.0,1435.6 722.0,1435.7 C723.0,1435.7 724.0,1435.8 725.0,1435.8 C726.0,1435.8 727.0,1435.9 728.0,1435.9 C729.0,1435.9 730.0,1435.9 731.0,1436.0 C732.0,1436.0 733.0,1436.0 734.0,1436.1 C735.0,1436.1 736.0,1436.1 737.0,1436.1 C738.0,1436.2 739.0,1436.2 740.0,1436.2 C741.0,1436.2 742.0,1436.3 743.0,1436.3 C744.0,1436.3 745.0,1436.3 746.0,1436.4 C747.0,1436.4 748.0,1436.4 749.0,1436.4 C750.0,1436.5 751.0,1436.5 752.0,1436.5 C753.0,1436.5 754.0,1436.5 755.0,1436.6 C756.0,1436.6 757.0,1436.6 758.0,1436.6 C759.0,1436.6 760.0,1436.7 761.0,1436.7 C762.0,1436.7 763.0,1436.7 764.0,1436.7 C765.0,1436.7 766.0,1436.8 767.0,1436.8 C768.0,1436.8 769.0,1436.8 770.0,1436.8 C771.0,1436.8 772.0,1436.9 773.0,1436.9 C774.0,1436.9 775.0,1436.9 776.0,1436.9 C777.0,1436.9 778.0,1436.9 779.0,1437.0 C780.0,1437.0 781.0,1437.0 782.0,1437.0 C783.0,1437.0 784.0,1437.0 785.0,1437.0 C786.0,1437.0 787.0,1437.1 788.0,1437.1 C789.0,1437.1 790.0,1437.1 791.0,1437.1 C792.0,1437.1 793.0,1437.1 794.0,1437.1 C795.0,1437.2 796.0,1437.2 797.0,1437.2 C798.0,1437.2 799.0,1437.2 800.0,1437.2 C801.0,1437.2 802.0,1437.2 803.0,1437.2 C804.0,1437.3 805.0,1437.3 806.0,1437.3 C807.0,1437.3 808.0,1437.3 809.0,1437.3 C810.0,1437.3 811.0,1437.3 812.0,1437.4 C813.0,1437.4 814.0,1437.4 815.0,1437.4 C816.0,1437.4 817.0,1437.4 818.0,1437.4 C819.0,1437.4 820.0,1437.4 821.0,1437.5 C822.0,1437.5 823.0,1437.5 824.0,1437.5 C825.0,1437.5 826.0,1437.5 827.0,1437.5 C828.0,1437.5 829.0,1437.5 830.0,1437.6 C831.0,1437.6 832.0,1437.6 833.0,1437.6 C834.0,1437.6 835.0,1437.6 836.0,1437.6 C837.0,1437.6 838.0,1437.6 839.0,1437.7 C840.0,1437.7 841.0,1437.7 842.0,1437.7 C843.0,1437.7 844.0,1437.7 845.0,1437.7 C846.0,1437.7 847.0,1437.7 848.0,1437.8 C849.0,1437.8 850.0,1437.8 851.0,1437.8 C852.0,1437.8 853.0,1437.8 854.0,1437.8 C855.0,1437.8 856.0,1437.8 857.0,1437.9 C858.0,1437.9 859.0,1437.9 860.0,1437.9 C861.0,1437.9 862.0,1437.9 863.0,1437.9 C864.0,1437.9 865.0,1437.9 866.0,1438.0 C867.0,1438.0 868.0,1438.0 869.0,1438.0 C870.0,1438.0 871.0,1438.0 872.0,1438.0 C873.0,1438.0 874.0,1438.0 875.0,1438.1 C876.0,1438.1 877.0,1438.1 878.0,1438.1 C879.0,1438.1 880.0,1438.1 881.0,1438.1 C882.0,1438.1 883.0,1438.1 884.0,1438.1 C885.0,1438.2 886.0,1438.2 887.0,1438.2 C888.0,1438.2 889.0,1438.2 890.0,1438.2 C891.0,1438.2 892.0,1438.2 893.0,1438.2 C894.0,1438.3 895.0,1438.3 896.0,1438.3 C897.0,1438.3 898.0,1438.3 899.0,1438.3 C900.0,1438.3 901.0,1438.3 902.0,1438.3 C903.0,1438.3 904.0,1438.4 905.0,1438.4 C906.0,1438.4 907.0,1438.4 908.0,1438.4 C909.0,1438.4 910.0,1438.4 911.0,1438.4 C912.0,1438.4 913.0,1438.4 914.0,1438.5 C915.0,1438.5 916.0,1438.5 917.0,1438.5 C918.0,1438.5 919.0,1438.5 920.0,1438.5 C921.0,1438.5 922.0,1438.5 923.0,1438.5 C924.0,1438.6 925.0,1438.6 926.0,1438.6 C927.0,1438.6 928.0,1438.6 929.0,1438.6 C930.0,1438.6 931.0,1438.6 932.0,1438.6 C933.0,1438.6 934.0,1438.6 935.0,1438.7 C936.0,1438.7 937.0,1438.7 938.0,1438.7 C939.0,1438.7 940.0,1438.7 941.0,1438.7 C942.0,1438.7 943.0,1438.7 944.0,1438.7 C945.0,1438.7 946.0,1438.8 947.0,1438.8 C948.0,1438.8 949.0,1438.8 950.0,1438.8 C951.0,1438.8 952.0,1438.8 953.0,1438.8 C954.0,1438.8 955.0,1438.8 956.0,1438.8 C957.0,1438.9 958.0,1438.9 959.0,1438.9 C960.0,1438.9 961.0,1438.9 962.0,1438.9 C963.0,1438.9 964.0,1438.9 965.0,1438.9 C966.0,1438.9 967.0,1438.9 968.0,1438.9 C969.0,1439.0 970.0,1439.0 971.0,1439.0 C972.0,1439.0 973.0,1439.0 974.0,1439.0 C975.0,1439.0 976.0,1439.0 977.0,1439.0 C978.0,1439.0 979.0,1439.0 980.0,1439.0 C981.0,1439.1 982.0,1439.1 983.0,1439.1 C984.0,1439.1 985.0,1439.1 986.0,1439.1 C987.0,1439.1 988.0,1439.1 989.0,1439.1 C990.0,1439.1 991.0,1439.1 992.0,1439.1 C993.0,1439.1 994.0,1439.2 995.0,1439.2 C996.0,1439.2 997.0,1439.2 998.0,1439.2 C999.0,1439.2 1000.0,1439.2 1001.0,1439.2 C1002.0,1439.2 1003.0,1439.2 1004.0,1439.2 C1005.0,1439.2 1006.0,1439.2 1007.0,1439.3 C1008.0,1439.3 1009.0,1439.3 1010.0,1439.3 C1011.0,1439.3 1012.0,1439.3 1013.0,1439.3 C1014.0,1439.3 1015.0,1439.3 1016.0,1439.3 C1017.0,1439.3 1018.0,1439.3 1019.0,1439.3 C1020.0,1439.3 1021.0,1439.3 1022.0,1439.4 C1023.0,1439.4 1024.0,1439.4 1025.0,1439.4 C1026.0,1439.4 1027.0,1439.4 1028.0,1439.4 C1029.0,1439.4 1030.0,1439.4 1031.0,1439.4 C1032.0,1439.4 1033.0,1439.4 1034.0,1439.4 C1035.0,1439.4 1036.0,1439.4 1037.0,1439.5 C1038.0,1439.5 1039.0,1439.5 1040.0,1439.5 C1041.0,1439.5 1042.0,1439.5 1043.0,1439.5 C1044.0,1439.5 1045.0,1439.5 1046.0,1439.5 C1047.0,1439.5 1048.0,1439.5 1049.0,1439.5 C1050.0,1439.5 1051.0,1439.5 1052.0,1439.5 C1053.0,1439.5 1054.0,1439.6 1055.0,1439.6 C1056.0,1439.6 1057.0,1439.6 1058.0,1439.6 C1059.0,1439.6 1060.0,1439.6 1061.0,1439.6 C1062.0,1439.6 1063.0,1439.6 1064.0,1439.6 C1065.0,1439.6 1066.0,1439.6 1067.0,1439.6 C1068.0,1439.6 1069.0,1439.6 1070.0,1439.6 C1071.0,1439.6 1072.0,1439.7 1073.0,1439.7 C1074.0,1439.7 1075.0,1439.7 1076.0,1439.7 C1077.0,1439.7 1078.0,1439.7 1079.0,1439.7 C1080.0,1439.7 1081.0,1439.7 1082.0,1439.7 C1083.0,1439.7 1084.0,1439.7 1085.0,1439.7 C1086.0,1439.7 1087.0,1439.7 1088.0,1439.7 C1089.0,1439.7 1090.0,1439.7 1091.0,1439.7 C1092.0,1439.8 1093.0,1439.8 1094.0,1439.8 C1095.0,1439.8 1096.0,1439.8 1097.0,1439.8 C1098.0,1439.8 1099.0,1439.8 1100.0,1439.8 C1101.0,1439.8 1102.0,1439.8 1103.0,1439.8 C1104.0,1439.8 1105.0,1439.8 1106.0,1439.8 C1107.0,1439.8 1108.0,1439.8 1109.0,1439.8 C1110.0,1439.8 1111.0,1439.8 1112.0,1439.8 C1113.0,1439.8 1114.0,1439.8 1115.0,1439.9 C1116.0,1439.9 1117.0,1439.9 1118.0,1439.9 C1119.0,1439.9 1120.0,1439.9 1121.0,1439.9 C1122.0,1439.9 1123.0,1439.9 1124.0,1439.9 C1125.0,1439.9 1126.0,1439.9 1127.0,1439.9 C1128.0,1439.9 1129.0,1439.9 1130.0,1439.9 C1131.0,1439.9 1132.0,1439.9 1133.0,1439.9 C1134.0,1439.9 1135.0,1439.9 1136.0,1439.9 C1137.0,1439.9 1138.0,1439.9 1139.0,1439.9 C1140.0,1439.9 1141.0,1440.0 1142.0,1440.0 C1143.0,1440.0 1144.0,1440.0 1145.0,1440.0 C1146.0,1440.0 1147.0,1440.0 1148.0,1440.0 C1149.0,1440.0 1150.0,1440.0 1151.0,1440.0 C1152.0,1440.0 1153.0,1440.0 1154.0,1440.0 C1155.0,1440.0 1156.0,1440.0 1157.0,1440.0 C1158.0,1440.0 1159.0,1440.0 1160.0,1440.0 C1161.0,1440.0 1162.0,1440.0 1163.0,1440.0 C1164.0,1440.0 1165.0,1440.0 1166.0,1440.0 C1167.0,1440.0 1168.0,1440.0 1169.0,1440.0 C1170.0,1440.0 1171.0,1440.1 1172.0,1440.1 C1173.0,1440.1 1174.0,1440.1 1175.0,1440.1 C1176.0,1440.1 1177.0,1440.1 1178.0,1440.1 C1179.0,1440.1 1180.0,1440.1 1181.0,1440.1 C1182.0,1440.1 1183.0,1440.1 1184.0,1440.1 C1185.0,1440.1 1186.0,1440.1 1187.0,1440.1 C1188.0,1440.1 1189.0,1440.1 1190.0,1440.1 C1191.0,1440.1 1192.0,1440.1 1193.0,1440.1 C1194.0,1440.1 1195.0,1440.1 1196.0,1440.1 C1197.0,1440.1 1198.0,1440.1 1199.0,1440.1 C1200.0,1440.1 1201.0,1440.1 1202.0,1440.1 C1203.0,1440.1 1204.0,1440.1 1205.0,1440.1 C1206.0,1440.1 1207.0,1440.1 1208.0,1440.1 C1209.0,1440.1 1210.0,1440.2 1211.0,1440.2 C1212.0,1440.2 1213.0,1440.2 1214.0,1440.2 C1215.0,1440.2 1216.0,1440.2 1217.0,1440.2 C1218.0,1440.2 1219.0,1440.2 1220.0,1440.2 C1221.0,1440.2 1222.0,1440.2 1223.0,1440.2 C1224.0,1440.2 1225.0,1440.2 1226.0,1440.2 C1227.0,1440.2 1228.0,1440.2 1229.0,1440.2 C1230.0,1440.2 1231.0,1440.2 1232.0,1440.2 C1233.0,1440.2 1234.0,1440.2 1235.0,1440.2 C1236.0,1440.2 1237.0,1440.2 1238.0,1440.2 C1239.0,1440.2 1240.0,1440.2 1241.0,1440.2 C1242.0,1440.2 1243.0,1440.2 1244.0,1440.2 C1245.0,1440.2 1246.0,1440.2 1247.0,1440.2 C1248.0,1440.2 1249.0,1440.2 1250.0,1440.2 C1251.0,1440.2 1252.0,1440.2 1253.0,1440.2 C1254.0,1440.2 1255.0,1440.2 1256.0,1440.2 C1257.0,1440.2 1258.0,1440.2 1259.0,1440.2 C1260.0,1440.2 1261.0,1440.2 1262.0,1440.2 C1263.0,1440.3 1264.0,1440.3 1265.0,1440.3 C1266.0,1440.3 1267.0,1440.3 1268.0,1440.3 C1269.0,1440.3 1270.0,1440.3 1271.0,1440.3 C1272.0,1440.3 1273.0,1440.3 1274.0,1440.3 C1275.0,1440.3 1276.0,1440.3 1277.0,1440.3 C1278.0,1440.3 1279.0,1440.3 1280.0,1440.3 C1281.0,1440.3 1282.0,1440.3 1283.0,1440.3 C1284.0,1440.3 1285.0,1440.3 1286.0,1440.3 C1287.0,1440.3 1288.0,1440.3 1289.0,1440.3 C1290.0,1440.3 1291.0,1440.3 1292.0,1440.3 C1293.0,1440.3 1294.0,1440.3 1295.0,1440.3 C1296.0,1440.3 1297.0,1440.3 1298.0,1440.3 C1299.0,1440.3 1300.0,1440.3 1301.0,1440.3 C1302.0,1440.3 1303.0,1440.3 1304.0,1440.3 C1305.0,1440.3 1306.0,1440.3 1307.0,1440.3 C1308.0,1440.3 1309.0,1440.3 1310.0,1440.3 C1311.0,1440.3 1312.0,1440.3 1313.0,1440.3 C1314.0,1440.3 1315.0,1440.3 1316.0,1440.3 C1317.0,1440.3 1318.0,1440.3 1319.0,1440.3 C1320.0,1440.3 1321.0,1440.3 1322.0,1440.3 C1323.0,1440.3 1324.0,1440.3 1325.0,1440.3 C1326.0,1440.3 1327.0,1440.3 1328.0,1440.3 C1329.0,1440.3 1330.0,1440.3 1331.0,1440.3 C1332.0,1440.3 1333.0,1440.3 1334.0,1440.3 C1335.0,1440.3 1336.0,1440.3 1337.0,1440.3 C1338.0,1440.3 1339.0,1440.3 1340.0,1440.3 C1341.0,1440.3 1342.0,1440.3 1343.0,1440.3 C1344.0,1440.3 1345.0,1440.3 1346.0,1440.3 C1347.0,1440.3 1348.0,1440.4 1349.0,1440.4 C1350.0,1440.4 1351.0,1440.4 1352.0,1440.4 C1353.0,1440.4 1354.0,1440.4 1355.0,1440.4 C1356.0,1440.4 1357.0,1440.4 1358.0,1440.4 C1359.0,1440.4 1360.0,1440.4 1361.0,1440.4 C1362.0,1440.4 1363.0,1440.4 1364.0,1440.4 C1365.0,1440.4 1366.0,1440.4 1367.0,1440.4 C1368.0,1440.4 1369.0,1440.4 1370.0,1440.4 C1371.0,1440.4 1372.0,1440.4 1373.0,1440.4 C1374.0,1440.4 1375.0,1440.4 1376.0,1440.4 C1377.0,1440.4 1378.0,1440.4 1379.0,1440.4 C1380.0,1440.4 1381.0,1440.4 1382.0,1440.4 C1383.0,1440.4 1384.0,1440.4 1385.0,1440.4 C1386.0,1440.4 1387.0,1440.4 1388.0,1440.4 C1389.0,1440.4 1390.0,1440.4 1391.0,1440.4 C1392.0,1440.4 1393.0,1440.4 1394.0,1440.4 C1395.0,1440.4 1396.0,1440.4 1397.0,1440.4 C1398.0,1440.4 1399.0,1440.4 1400.0,1440.4 C1401.0,1440.4 1402.0,1440.4 1403.0,1440.4 C1404.0,1440.4 1405.0,1440.4 1406.0,1440.4 C1407.0,1440.4 1408.0,1440.4 1409.0,1440.4 C1410.0,1440.4 1411.0,1440.4 1412.0,1440.4 C1413.0,1440.4 1414.0,1440.4 1415.0,1440.4 C1416.0,1440.4 1417.0,1440.4 1418.0,1440.4 C1419.0,1440.4 1420.0,1440.4 1421.0,1440.4 C1422.0,1440.4 1423.0,1440.4 1424.0,1440.4 C1425.0,1440.4 1426.0,1440.4 1427.0,1440.4 C1428.0,1440.4 1429.0,1440.4 1430.0,1440.4 C1431.0,1440.4 1432.0,1440.4 1433.0,1440.4 C1434.0,1440.4 1435.0,1440.4 1436.0,1440.4 C1437.0,1440.4 1438.0,1440.4 1439.0,1440.4 C1440.0,1440.4 1441.0,1440.4 1442.0,1440.4 C1443.0,1440.4 1444.0,1440.4 1445.0,1440.4 C1446.0,1440.4 1447.0,1440.4 1448.0,1440.4 C1449.0,1440.4 1450.0,1440.4 1451.0,1440.4 C1452.0,1440.4 1453.0,1440.4 1454.0,1440.4 C1455.0,1440.4 1456.0,1440.4 1457.0,1440.4 C1458.0,1440.4 1459.0,1440.4 1460.0,1440.4 C1461.0,1440.4 1462.0,1440.4 1463.0,1440.4 C1464.0,1440.4 1465.0,1440.4 1466.0,1440.4 C1467.0,1440.4 1468.0,1440.4 1469.0,1440.4 C1470.0,1440.5 1471.0,1440.5 1472.0,1440.5 C1473.0,1440.5 1474.0,1440.5 1475.0,1440.5 C1476.0,1440.5 1477.0,1440.5 1478.0,1440.5 C1479.0,1440.5 1480.0,1440.5 1481.0,1440.5 C1482.0,1440.5 1483.0,1440.5 1484.0,1440.5 C1485.0,1440.5 1486.0,1440.5 1487.0,1440.5 C1488.0,1440.5 1489.0,1440.5 1490.0,1440.5 C1491.0,1440.5 1492.0,1440.5 1493.0,1440.5 C1494.0,1440.5 1495.0,1440.5 1496.0,1440.5 C1497.0,1440.5 1498.0,1440.5 1499.0,1440.5 C1500.0,1440.5 1501.0,1440.5 1502.0,1440.5 C1503.0,1440.5 1504.0,1440.5 1505.0,1440.5 C1506.0,1440.5 1507.0,1440.5 1508.0,1440.5 C1509.0,1440.5 1510.0,1440.5 1511.0,1440.5 C1512.0,1440.5 1513.0,1440.5 1514.0,1440.5 C1515.0,1440.5 1516.0,1440.5 1517.0,1440.5 C1518.0,1440.5 1519.0,1440.5 1520.0,1440.5 C1521.0,1440.5 1522.0,1440.5 1523.0,1440.5 C1524.0,1440.5 1525.0,1440.5 1526.0,1440.5 C1527.0,1440.5 1528.0,1440.5 1529.0,1440.5 C1530.0,1440.5 1531.0,1440.5 1532.0,1440.5 C1533.0,1440.5 1534.0,1440.5 1535.0,1440.5 C1536.0,1440.5 1537.0,1440.5 1538.0,1440.5 C1539.0,1440.5 1540.0,1440.5 1541.0,1440.5 C1542.0,1440.5 1543.0,1440.5 1544.0,1440.5 C1545.0,1440.5 1546.0,1440.5 1547.0,1440.5 C1548.0,1440.5 1549.0,1440.5 1550.0,1440.5 C1551.0,1440.5 1552.0,1440.5 1553.0,1440.5 C1554.0,1440.5 1555.0,1440.5 1556.0,1440.5 C1557.0,1440.5 1558.0,1440.5 1559.0,1440.5 C1560.0,1440.5 1561.0,1440.5 1562.0,1440.5 C1563.0,1440.5 1564.0,1440.5 1565.0,1440.5 C1566.0,1440.5 1567.0,1440.5 1568.0,1440.5 C1569.0,1440.5 1570.0,1440.5 1571.0,1440.5 C1572.0,1440.5 1573.0,1440.5 1574.0,1440.5 C1575.0,1440.5 1576.0,1440.5 1577.0,1440.5 C1578.0,1440.5 1579.0,1440.5 1580.0,1440.5 C1581.0,1440.5 1582.0,1440.5 1583.0,1440.5 C1584.0,1440.5 1585.0,1440.5 1586.0,1440.5 C1587.0,1440.5 1588.0,1440.5 1589.0,1440.5 C1590.0,1440.5 1591.0,1440.5 1592.0,1440.5 C1593.0,1440.5 1594.0,1440.5 1595.0,1440.5 C1596.0,1440.5 1597.0,1440.5 1598.0,1440.5 C1599.0,1440.5 1600.0,1440.5 1601.0,1440.5 C1602.0,1440.5 1603.0,1440.5 1604.0,1440.6 C1605.0,1440.6 1606.0,1440.6 1607.0,1440.6 C1608.0,1440.6 1609.0,1440.6 1610.0,1440.6 C1611.0,1440.6 1612.0,1440.6 1613.0,1440.6 C1614.0,1440.6 1615.0,1440.6 1616.0,1440.6 C1617.0,1440.6 1618.0,1440.6 1619.0,1440.6 C1620.0,1440.6 1621.0,1440.6 1622.0,1440.6 C1623.0,1440.6 1624.0,1440.6 1625.0,1440.6 C1626.0,1440.6 1627.0,1440.6 1628.0,1440.6 C1629.0,1440.6 1630.0,1440.6 1631.0,1440.6 C1632.0,1440.6 1633.0,1440.6 1634.0,1440.6 C1635.0,1440.6 1636.0,1440.6 1637.0,1440.6 C1638.0,1440.6 1639.0,1440.6 1640.0,1440.6 C1641.0,1440.6 1642.0,1440.6 1643.0,1440.6 C1644.0,1440.6 1645.0,1440.6 1646.0,1440.6 C1647.0,1440.6 1648.0,1440.6 1649.0,1440.6 C1650.0,1440.6 1651.0,1440.6 1652.0,1440.6 C1653.0,1440.6 1654.0,1440.6 1655.0,1440.6 C1656.0,1440.6 1657.0,1440.6 1658.0,1440.6 C1659.0,1440.6 1660.0,1440.6 1661.0,1440.6 C1662.0,1440.6 1663.0,1440.6 1664.0,1440.6 C1665.0,1440.6 1666.0,1440.6 1667.0,1440.6 C1668.0,1440.6 1669.0,1440.6 1670.0,1440.6 C1671.0,1440.6 1672.0,1440.6 1673.0,1440.6 C1674.0,1440.6 1675.0,1440.6 1676.0,1440.6 C1677.0,1440.6 1678.0,1440.6 1679.0,1440.6 C1680.0,1440.6 1681.0,1440.6 1682.0,1440.6 C1683.0,1440.6 1684.0,1440.6 1685.0,1440.6 C1686.0,1440.6 1687.0,1440.6 1688.0,1440.6 C1689.0,1440.6 1690.0,1440.6 1691.0,1440.6 C1692.0,1440.6 1693.0,1440.6 1694.0,1440.6 C1695.0,1440.6 1696.0,1440.6 1697.0,1440.6 C1698.0,1440.6 1699.0,1440.6 1700.0,1440.6 C1701.0,1440.6 1702.0,1440.6 1703.0,1440.6 C1704.0,1440.6 1705.0,1440.6 1706.0,1440.6 C1707.0,1440.6 1708.0,1440.6 1709.0,1440.6 C1710.0,1440.6 1711.0,1440.6 1712.0,1440.6 C1713.0,1440.6 1714.0,1440.6 1715.0,1440.6 C1716.0,1440.6 1717.0,1440.6 1718.0,1440.6 C1719.0,1440.6 1720.0,1440.6 1721.0,1440.6 C1722.0,1440.6 1723.0,1440.6 1724.0,1440.6 C1725.0,1440.6 1726.0,1440.6 1727.0,1440.6 C1728.0,1440.6 1729.0,1440.6 1730.0,1440.6 C1731.0,1440.6 1732.0,1440.6 1733.0,1440.6 C1734.0,1440.6 1735.0,1440.6 1736.0,1440.6 C1737.0,1440.6 1738.0,1440.6 1739.0,1440.6 C1740.0,1440.6 1741.0,1440.6 1742.0,1440.6 C1743.0,1440.6 1744.0,1440.6 1745.0,1440.6 C1746.0,1440.6 1747.0,1440.6 1748.0,1440.6 C1749.0,1440.6 1750.0,1440.6 1751.0,1440.6 C1752.0,1440.6 1753.0,1440.6 1754.0,1440.6 C1755.0,1440.6 1756.0,1440.6 1757.0,1440.6 C1758.0,1440.6 1759.0,1440.6 1760.0,1440.6 C1761.0,1440.6 1762.0,1440.6 1763.0,1440.6 C1764.0,1440.6 1765.0,1440.6 1766.0,1440.6 C1767.0,1440.6 1768.0,1440.6 1769.0,1440.6 C1770.0,1440.6 1771.0,1440.6 1772.0,1440.6 C1773.0,1440.6 1774.0,1440.6 1775.0,1440.6 C1776.0,1440.6 1777.0,1440.6 1778.0,1440.6 C1779.0,1440.6 1780.0,1440.6 1781.0,1440.6 C1782.0,1440.6 1783.0,1440.6 1784.0,1440.6 C1785.0,1440.6 1786.0,1440.6 1787.0,1440.6 C1788.0,1440.6 1789.0,1440.6 1790.0,1440.6 C1791.0,1440.6 1792.0,1440.6 1793.0,1440.6 C1794.0,1440.6 1795.0,1440.6 1796.0,1440.6 C1797.0,1440.6 1798.0,1440.6 1799.0,1440.6 C1800.0,1440.6 1801.0,1440.6 1802.0,1440.6 C1803.0,1440.6 1804.0,1440.6 1805.0,1440.6 C1806.0,1440.6 1807.0,1440.6 1808.0,1440.6 C1809.0,1440.6 1810.0,1440.6 1811.0,1440.6 C1812.0,1440.6 1813.0,1440.6 1814.0,1440.6 C1815.0,1440.6 1816.0,1440.6 1817.0,1440.6 C1818.0,1440.6 1819.0,1440.6 1820.0,1440.6 C1821.0,1440.6 1822.0,1440.6 1823.0,1440.6 C1824.0,1440.6 1825.0,1440.6 1826.0,1440.6 C1827.0,1440.6 1828.0,1440.6 1829.0,1440.6 C1830.0,1440.6 1831.0,1440.6 1832.0,1440.6 C1833.0,1440.6 1834.0,1440.6 1835.0,1440.6 C1836.0,1440.6 1837.0,1440.6 1838.0,1440.6 C1839.0,1440.6 1840.0,1440.6 1841.0,1440.6 C1842.0,1440.6 1843.0,1440.6 1844.0,1440.6 C1845.0,1440.6 1846.0,1440.6 1847.0,1440.6 C1848.0,1440.6 1849.0,1440.6 1850.0,1440.6 C1851.0,1440.6 1852.0,1440.6 1853.0,1440.6 C1854.0,1440.6 1855.0,1440.6 1856.0,1440.6 C1857.0,1440.6 1858.0,1440.6 1859.0,1440.6 C1860.0,1440.6 1861.0,1440.6 1862.0,1440.6 C1863.0,1440.6 1864.0,1440.6 1865.0,1440.6 C1866.0,1440.6 1867.0,1440.6 1868.0,1440.6 C1869.0,1440.6 1870.0,1440.6 1871.0,1440.6 C1872.0,1440.6 1873.0,1440.6 1874.0,1440.6 C1875.0,1440.6 1876.0,1440.6 1877.0,1440.6 C1878.0,1440.6 1879.0,1440.6 1880.0,1440.6 C1881.0,1440.6 1882.0,1440.6 1883.0,1440.6 C1884.0,1440.6 1885.0,1440.6 1886.0,1440.6 C1887.0,1440.6 1888.0,1440.6 1889.0,1440.6 C1890.0,1440.6 1891.0,1440.6 1892.0,1440.6 C1893.0,1440.6 1894.0,1440.6 1895.0,1440.6 C1896.0,1440.6 1897.0,1440.6 1898.0,1440.6 C1899.0,1440.6 1900.0,1440.6 1901.0,1440.6 C1902.0,1440.6 1903.0,1440.6 1904.0,1440.6 C1905.0,1440.6 1906.0,1440.6 1907.0,1440.6 C1908.0,1440.6 1909.0,1440.6 1910.0,1440.6 C1911.0,1440.6 1912.0,1440.6 1913.0,1440.6 C1914.0,1440.6 1915.0,1440.6 1916.0,1440.6 C1917.0,1440.6 1918.0,1440.6 1919.0,1440.6 C1920.0,1440.6 1921.0,1440.6 1922.0,1440.6 C1923.0,1440.6 1924.0,1440.6 1925.0,1440.6 C1926.0,1440.6 1927.0,1440.6 1928.0,1440.6 C1929.0,1440.6 1930.0,1440.6 1931.0,1440.6 C1932.0,1440.6 1933.0,1440.6 1934.0,1440.6 C1935.0,1440.6 1936.0,1440.6 1937.0,1440.6 C1938.0,1440.6 1939.0,1440.6 1940.0,1440.6 C1941.0,1440.6 1942.0,1440.6 1943.0,1440.6 C1944.0,1440.6 1945.0,1440.6 1946.0,1440.6 C1947.0,1440.6 1948.0,1440.6 1949.0,1440.6 C1950.0,1440.6 1951.0,1440.6 1952.0,1440.6 C1953.0,1440.6 1954.0,1440.6 1955.0,1440.6 C1956.0,1440.6 1957.0,1440.6 1958.0,1440.6 C1959.0,1440.6 1960.0,1440.6 1961.0,1440.6 C1962.0,1440.6 1963.0,1440.6 1964.0,1440.6 C1965.0,1440.6 1966.0,1440.6 1967.0,1440.6 C1968.0,1440.6 1969.0,1440.6 1970.0,1440.6 C1971.0,1440.6 1972.0,1440.6 1973.0,1440.6 C1974.0,1440.6 1975.0,1440.6 1976.0,1440.6 C1977.0,1440.6 1978.0,1440.6 1979.0,1440.6 C1980.0,1440.6 1981.0,1440.6 1982.0,1440.6 C1983.0,1440.6 1984.0,1440.6 1985.0,1440.6 C1986.0,1440.6 1987.0,1440.6 1988.0,1440.6 C1989.0,1440.6 1990.0,1440.6 1991.0,1440.6 C1992.0,1440.6 1993.0,1440.6 1994.0,1440.6 C1995.0,1440.6 1996.0,1440.6 1997.0,1440.6 C1998.0,1440.6 1999.0,1440.6 2000.0,1440.6 C2001.0,1440.6 2002.0,1440.6 2003.0,1440.6 C2004.0,1440.6 2005.0,1440.6 2006.0,1440.6 C2007.0,1440.6 2008.0,1440.6 2009.0,1440.6 C2010.0,1440.6 2011.0,1440.6 2012.0,1440.6 C2013.0,1440.6 2014.0,1440.5 2015.0,1440.5 C2016.0,1440.5 2017.0,1440.5 2018.0,1440.5 C2019.0,1440.5 2020.0,1440.5 2021.0,1440.5 C2022.0,1440.5 2023.0,1440.5 2024.0,1440.5 C2025.0,1440.5 2026.0,1440.5 2027.0,1440.5 C2028.0,1440.5 2029.0,1440.5 2030.0,1440.5 C2031.0,1440.5 2032.0,1440.5 2033.0,1440.5 C2034.0,1440.5 2035.0,1440.5 2036.0,1440.5 C2037.0,1440.5 2038.0,1440.5 2039.0,1440.5 C2040.0,1440.5 2041.0,1440.5 2042.0,1440.5 C2043.0,1440.5 2044.0,1440.5 2045.0,1440.5 C2046.0,1440.5 2047.0,1440.5 2048.0,1440.5 C2049.0,1440.5 2050.0,1440.5 2051.0,1440.5 C2052.0,1440.5 2053.0,1440.5 2054.0,1440.5 C2055.0,1440.5 2056.0,1440.5 2057.0,1440.5 C2058.0,1440.5 2059.0,1440.5 2060.0,1440.5 C2061.0,1440.5 2062.0,1440.5 2063.0,1440.5 C2064.0,1440.5 2065.0,1440.5 2066.0,1440.5 C2067.0,1440.5 2068.0,1440.5 2069.0,1440.5 C2070.0,1440.5 2071.0,1440.5 2072.0,1440.5 C2073.0,1440.5 2074.0,1440.5 2075.0,1440.5 C2076.0,1440.5 2077.0,1440.5 2078.0,1440.5 C2079.0,1440.5 2080.0,1440.5 2081.0,1440.5 C2082.0,1440.5 2083.0,1440.5 2084.0,1440.5 C2085.0,1440.5 2086.0,1440.5 2087.0,1440.5 C2088.0,1440.5 2089.0,1440.5 2090.0,1440.5 C2091.0,1440.5 2092.0,1440.5 2093.0,1440.5 C2094.0,1440.5 2095.0,1440.5 2096.0,1440.5 C2097.0,1440.4 2098.0,1440.4 2099.0,1440.4 C2100.0,1440.4 2101.0,1440.4 2102.0,1440.4 C2103.0,1440.4 2104.0,1440.4 2105.0,1440.4 C2106.0,1440.4 2107.0,1440.4 2108.0,1440.4 C2109.0,1440.4 2110.0,1440.4 2111.0,1440.4 C2112.0,1440.4 2113.0,1440.4 2114.0,1440.4 C2115.0,1440.4 2116.0,1440.4 2117.0,1440.4 C2118.0,1440.4 2119.0,1440.4 2120.0,1440.4 C2121.0,1440.4 2122.0,1440.4 2123.0,1440.4 C2124.0,1440.4 2125.0,1440.4 2126.0,1440.4 C2127.0,1440.4 2128.2,1440.4 2129.0,1440.4 C2129.8,1440.4 2130.7,1440.4 2131.0,1440.4"/>
</g>
<g fill="none" stroke="#000" stroke-width="6.5" stroke-linejoin="round" stroke-linecap="round"><rect x="300.5" y="63.4" width="1832.5" height="1477.6" fill="none"/><line x1="300.5" y1="1443.0" x2="329.0" y2="1443.0"/><line x1="300.5" y1="1245.9" x2="329.0" y2="1245.9"/><line x1="300.5" y1="1048.8" x2="329.0" y2="1048.8"/><line x1="300.5" y1="851.7" x2="329.0" y2="851.7"/><line x1="300.5" y1="654.7" x2="329.0" y2="654.7"/><line x1="300.5" y1="457.6" x2="329.0" y2="457.6"/><line x1="300.5" y1="260.5" x2="329.0" y2="260.5"/><line x1="483.8" y1="1541.0" x2="483.8" y2="1528.0"/><line x1="667.0" y1="1541.0" x2="667.0" y2="1514.0"/><line x1="850.2" y1="1541.0" x2="850.2" y2="1528.0"/><line x1="1033.5" y1="1541.0" x2="1033.5" y2="1514.0"/><line x1="1216.8" y1="1541.0" x2="1216.8" y2="1528.0"/><line x1="1400.0" y1="1541.0" x2="1400.0" y2="1514.0"/><line x1="1583.2" y1="1541.0" x2="1583.2" y2="1528.0"/><line x1="1766.5" y1="1541.0" x2="1766.5" y2="1514.0"/><line x1="1949.8" y1="1541.0" x2="1949.8" y2="1528.0"/></g>
<g font-family="'Liberation Serif','Times New Roman',serif" font-size="64.5" fill="#000"><text x="267" y="1460.7" text-anchor="end">0.0</text><text x="267" y="1263.6" text-anchor="end">0.5</text><text x="267" y="1066.5" text-anchor="end">1.0</text><text x="267" y="869.4" text-anchor="end">1.5</text><text x="267" y="672.4" text-anchor="end">2.0</text><text x="267" y="475.3" text-anchor="end">2.5</text><text x="267" y="278.2" text-anchor="end">3.0</text><text x="267" y="81.1" text-anchor="end">3.5</text><text x="300.5" y="1620.5" text-anchor="middle">200</text><text x="667.0" y="1620.5" text-anchor="middle">300</text><text x="1033.5" y="1620.5" text-anchor="middle">400</text><text x="1400.0" y="1620.5" text-anchor="middle">500</text><text x="1766.5" y="1620.5" text-anchor="middle">600</text><text x="2133.0" y="1620.5" text-anchor="middle">700</text></g>
<text x="1215" y="1743.8" text-anchor="middle" font-family="'Liberation Serif','Times New Roman',serif" font-weight="bold" font-size="77.6" fill="#000">Wavelength(nm)</text>
<text transform="translate(102.2,774.8) rotate(-90)" x="0" y="0" text-anchor="middle" font-family="'Liberation Serif','Times New Roman',serif" font-weight="bold" font-size="77" fill="#000">Absorbance(a.u.)</text>
<line x1="1351" y1="143.3" x2="1474" y2="143.3" stroke="#000000" stroke-width="6" stroke-linecap="round"/>
<text x="1490.5" y="162.0" font-family="'Liberation Sans',Arial,sans-serif" font-size="55.5" fill="#000">Casein-AgNPs</text>
<line x1="1351" y1="211.7" x2="1474" y2="211.7" stroke="#ff0000" stroke-width="6" stroke-linecap="round"/>
<text x="1490.5" y="230.5" font-family="'Liberation Sans',Arial,sans-serif" font-size="55.5" fill="#000">Casein/arginine-AgNPs</text>
<line x1="1351" y1="280.4" x2="1474" y2="280.4" stroke="#0000ff" stroke-width="6" stroke-linecap="round"/>
<text x="1490.5" y="299.2" font-family="'Liberation Sans',Arial,sans-serif" font-size="55.5" fill="#000">Arginine-AgNPs</text>
<text x="1069.3" y="288.5" font-family="'Liberation Sans',Arial,sans-serif" font-weight="bold" font-size="64" fill="#000">423 nm</text>
<text x="353.6" y="472" font-family="'Liberation Sans',Arial,sans-serif" font-weight="bold" font-size="64" fill="#000">210 nm</text>
<polygon points="1105.8,315.8 1126,315.8 1116,354.3" fill="#000"/>
<polygon points="331.2,497.8 351.5,497.8 341.4,535.5" fill="#000"/></svg>
</body></html>
